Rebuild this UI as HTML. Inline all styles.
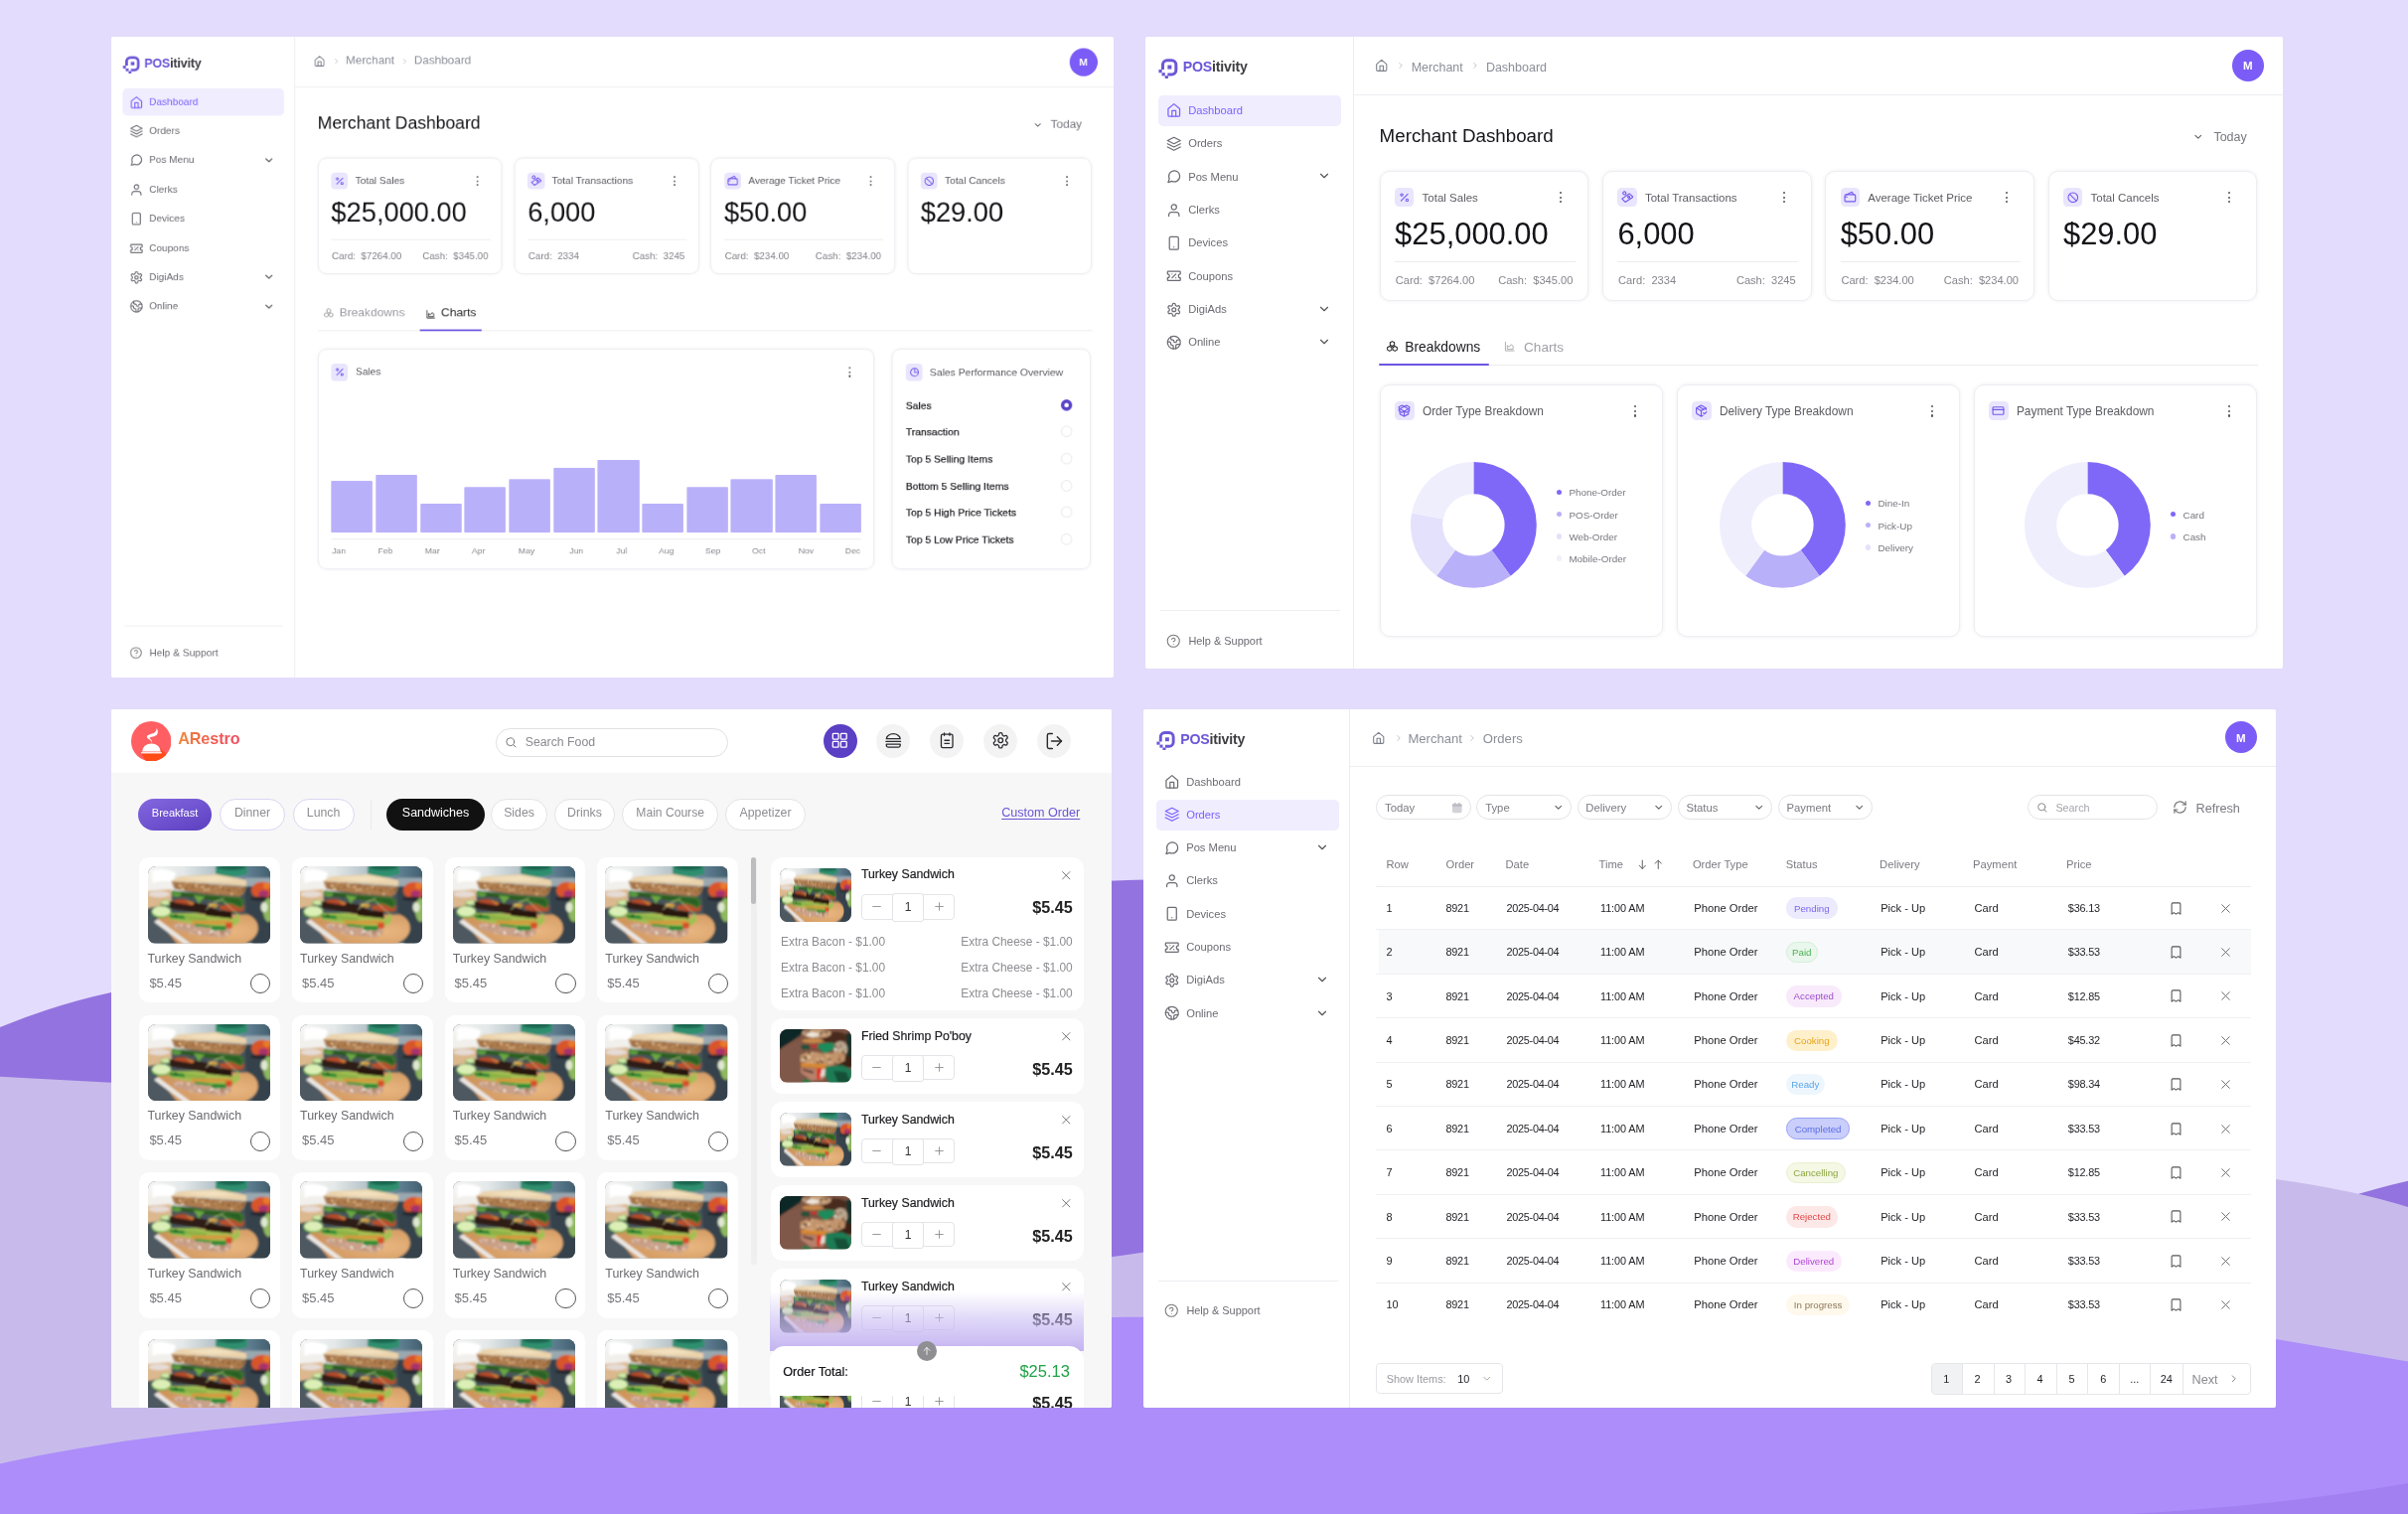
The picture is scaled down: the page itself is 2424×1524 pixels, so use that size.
<!DOCTYPE html><html><head><meta charset="utf-8"><title>POS dashboards</title><style>
html,body{margin:0;padding:0}
body{width:2424px;height:1524px;background:#E3DCFC;position:relative;overflow:hidden;font-family:"Liberation Sans",sans-serif;-webkit-font-smoothing:antialiased}
.t{position:absolute;white-space:nowrap;line-height:1}
.b{position:absolute}
.ic{position:absolute;display:block}
.panel{position:absolute;background:#fff;overflow:hidden;border-radius:2px}
.sc{position:absolute;left:0;top:0;transform-origin:0 0;will-change:transform}
</style></head><body><svg class="ic" style="left:0;top:0;width:2424px;height:1524px" viewBox="0 0 2424 1524">
<path d="M0,1034 Q 56,1011 112,999 C 250,969.500 700,900 1135,886 S 1600,900 1900,1100 S 2300,1215 2424,1188.700 V1524 H0 Z" fill="#9373DF"/>
<path d="M0,1083.800 L112,1089.700 C 300,1099.600 800,1311.200 1135,1263 C 1500,1210.400 2000,1150 2291,1187 Q 2370,1198 2424,1215 V1524 H0Z" fill="#C8BBEC"/>
<path d="M0,1473.500 C 100,1451 250,1431 480,1417 C 700,1404 950,1325.800 1135,1325.800 C 1500,1325.800 2000,1300 2291,1348 L2424,1370.500 V1524 H0Z" fill="#AC8DF9"/>
<path d="M2143,1524 Q 2300,1515 2424,1493 V1524 Z" fill="#A380F1"/>
</svg>
<svg width="0" height="0" style="position:absolute">
<defs>
<filter id="bl" x="-5%" y="-5%" width="110%" height="110%"><feGaussianBlur stdDeviation="21"/></filter>
<filter id="bl2" x="-5%" y="-5%" width="110%" height="110%"><feGaussianBlur stdDeviation="26"/></filter>
<linearGradient id="bgtop" x1="0" x2="1"><stop offset="0" stop-color="#f6f6f4"/><stop offset=".3" stop-color="#e4e8e8"/><stop offset=".55" stop-color="#b4c2c8"/><stop offset=".8" stop-color="#5f7f92"/><stop offset="1" stop-color="#3f5a6a"/></linearGradient>
<radialGradient id="brd" cx=".75" cy=".55" r=".7"><stop offset="0" stop-color="#e9b680"/><stop offset="1" stop-color="#cf955c"/></radialGradient>
<symbol id="sw" viewBox="75 75 2165 1365" preserveAspectRatio="none">
 <rect x="75" y="75" width="2165" height="1365" fill="#46535b"/>
 <g filter="url(#bl)">
 <rect x="0" y="0" width="2300" height="520" fill="url(#bgtop)"/>
 <path d="M0 300l500-60v360l-500 80z" fill="#f2f0ec"/>
 <path d="M150 150q200-60 420 40l-60 160q-200-40-360 20z" fill="#ffffff"/>
 <path d="M0 520l480-40 20 240-500 120z" fill="#dcb88e"/>
 <ellipse cx="270" cy="570" rx="190" ry="55" fill="#e6dcd6"/>
 <path d="M1800 280h460v160l-460 0z" fill="#9aa8b0"/>
 <path d="M1270 60h560v150q-280 120-560 0z" fill="#2f8f6e"/><ellipse cx="1550" cy="90" rx="250" ry="55" fill="#1b6650"/>
 <path d="M1780 430h480v1030h-330l-100-300z" fill="#35434b"/>
 <ellipse cx="2090" cy="500" rx="190" ry="150" fill="#d8552c"/><ellipse cx="2120" cy="560" rx="90" ry="60" fill="#a8326c"/><ellipse cx="2180" cy="420" rx="70" ry="60" fill="#e87a2a"/>
 <ellipse cx="2060" cy="650" rx="180" ry="40" fill="#26282e"/>
 <ellipse cx="2210" cy="850" rx="100" ry="210" fill="#8fb860"/><ellipse cx="2130" cy="800" rx="60" ry="90" fill="#dfe8cf"/>
 <path d="M0 960l300-40 600 560h-900z" fill="#4d5860"/>
 <path d="M240 1000q100-90 700-90l900 20q180 80 180 240 0 180-300 320h-1100z" fill="url(#brd)"/>
 <path d="M250 1010l600 450h-130l-540-400z" fill="#ebe7e3"/>
 <ellipse cx="400" cy="725" rx="110" ry="50" fill="#62ae40"/><ellipse cx="400" cy="718" rx="95" ry="40" fill="#d4e8aa"/>
 <ellipse cx="310" cy="885" rx="180" ry="105" fill="#58a838"/><ellipse cx="310" cy="872" rx="165" ry="90" fill="#dcefb6"/>
 <path d="M520 1085l380 30 300 70 360-10-20 90-140 75-500-50-360-105z" fill="#c9a088"/>
 <clipPath id="cc2"><path d="M520 1085l380 30 300 70 360-10-20 90-140 75-500-50-360-105z"/></clipPath><g clip-path="url(#cc2)"><circle cx="1230" cy="1220" r="17" fill="#f4e6da"/><circle cx="1439" cy="1099" r="13" fill="#f4e6da"/><circle cx="1323" cy="1214" r="18" fill="#f4e6da"/><circle cx="981" cy="1241" r="17" fill="#ffffff"/><circle cx="727" cy="1156" r="17" fill="#b88870"/><circle cx="1048" cy="1148" r="17" fill="#f0dccc"/><circle cx="1480" cy="1313" r="13" fill="#b88870"/><circle cx="663" cy="1116" r="16" fill="#f4e6da"/><circle cx="1218" cy="1194" r="13" fill="#f0dccc"/><circle cx="1335" cy="1314" r="12" fill="#f0dccc"/><circle cx="669" cy="1310" r="24" fill="#a87860"/><circle cx="1297" cy="1109" r="22" fill="#a87860"/><circle cx="1549" cy="1297" r="12" fill="#b88870"/><circle cx="1554" cy="1188" r="16" fill="#f0dccc"/><circle cx="851" cy="1269" r="10" fill="#ffffff"/><circle cx="997" cy="1264" r="15" fill="#ffffff"/><circle cx="1169" cy="1216" r="11" fill="#a87860"/><circle cx="1531" cy="1112" r="14" fill="#f4e6da"/><circle cx="1462" cy="1131" r="21" fill="#b88870"/><circle cx="1404" cy="1257" r="23" fill="#b88870"/><circle cx="675" cy="1319" r="18" fill="#f0dccc"/><circle cx="613" cy="1100" r="20" fill="#b88870"/><circle cx="1451" cy="1154" r="10" fill="#f4e6da"/><circle cx="1354" cy="1106" r="22" fill="#f4e6da"/><circle cx="795" cy="1116" r="10" fill="#ffffff"/><circle cx="954" cy="1318" r="19" fill="#f4e6da"/><circle cx="1068" cy="1146" r="12" fill="#a87860"/><circle cx="792" cy="1131" r="23" fill="#f0dccc"/><circle cx="1072" cy="1137" r="16" fill="#a87860"/><circle cx="801" cy="1290" r="24" fill="#f4e6da"/><circle cx="536" cy="1272" r="18" fill="#a87860"/><circle cx="1055" cy="1148" r="16" fill="#b88870"/><circle cx="1203" cy="1224" r="22" fill="#ffffff"/><circle cx="840" cy="1140" r="13" fill="#a87860"/><circle cx="1386" cy="1265" r="19" fill="#b88870"/><circle cx="1549" cy="1335" r="22" fill="#f4e6da"/><circle cx="594" cy="1274" r="14" fill="#a87860"/><circle cx="578" cy="1255" r="15" fill="#ffffff"/><circle cx="1217" cy="1157" r="13" fill="#f0dccc"/><circle cx="567" cy="1132" r="14" fill="#f4e6da"/><circle cx="794" cy="1330" r="24" fill="#ffffff"/><circle cx="856" cy="1094" r="22" fill="#a87860"/><circle cx="891" cy="1085" r="15" fill="#b88870"/><circle cx="810" cy="1252" r="13" fill="#f4e6da"/><circle cx="614" cy="1293" r="12" fill="#ffffff"/><circle cx="563" cy="1091" r="14" fill="#a87860"/><circle cx="608" cy="1329" r="22" fill="#a87860"/><circle cx="1204" cy="1268" r="22" fill="#b88870"/><circle cx="1315" cy="1269" r="17" fill="#f0dccc"/><circle cx="1273" cy="1249" r="11" fill="#ffffff"/><circle cx="1172" cy="1272" r="21" fill="#a87860"/><circle cx="1466" cy="1277" r="18" fill="#f4e6da"/><circle cx="1379" cy="1234" r="22" fill="#a87860"/><circle cx="608" cy="1096" r="19" fill="#f4e6da"/><circle cx="912" cy="1200" r="11" fill="#f4e6da"/><circle cx="1171" cy="1259" r="17" fill="#f4e6da"/><circle cx="995" cy="1103" r="23" fill="#ffffff"/><circle cx="616" cy="1219" r="20" fill="#b88870"/><circle cx="782" cy="1104" r="14" fill="#a87860"/><circle cx="760" cy="1251" r="16" fill="#b88870"/></g>
 <path d="M455 900h450l300 60 400 40 60-110 40 160-150 105h-350l-750-140z" fill="#a3c052"/>
 <path d="M700 930l420 60-40 80-380-60z" fill="#8db247"/>
 <path d="M830 1040l710-10-10 75h-670z" fill="#d49a3c"/>
 <path d="M1445 1080l125-10-15 110-110 0z" fill="#d8502a"/>
 <path d="M455 925l250 20 30 70-270-20z" fill="#2e8a34"/><ellipse cx="565" cy="950" rx="28" ry="20" fill="#143c18"/>
 <path d="M1190 1125l270 10-10 75h-250z" fill="#2e8a34"/><path d="M900 1090l280 30v45l-280-30z" fill="#38983c"/>
 <path d="M450 700l250-25 420 90 200 95 230 5v130l-350-45-300-65-440-65z" fill="#2e1c15"/>
 <path d="M1100 850l460 60v90l-460-50z" fill="#281610"/>
 <path d="M1330 775l190-35 260 35-25 105-190 0-220-45z" fill="#b9502e"/>
 <path d="M1150 725l170 15-30 75-150-30z" fill="#cf9a40"/>
 <path d="M530 672l170-20 200 78-40 40-330-58z" fill="#b34a2c"/>
 <path d="M720 662l150 45 20 30-50 25z" fill="#c97a38"/>
 <path d="M495 500l600 80 610 45 70 70-50 130-150-70-500-100-200-30-390-40z" fill="#397429"/><path d="M560 560l520 70 600 50" stroke="#1f3d1b" stroke-width="34" fill="none" opacity=".75"/>
 <path d="M880 590l200 25-110 120z" fill="#6aa843"/><path d="M1420 650l280 25 40 110-110-40z" fill="#2a5f26"/><path d="M520 530l150 20-40 70-110-10z" fill="#5c9c3c"/>
 <path d="M1100 840q120-140 320-190" stroke="#cfe0a0" stroke-width="14" fill="none"/><path d="M1400 690q120 100 240 220" stroke="#cfe0a0" stroke-width="12" fill="none"/>
 <path d="M485 335l715 58 612 45-50 125-62 50-600-52-560-80z" fill="#ad7c4e"/>
 <clipPath id="cc1"><path d="M485 335l715 58 612 45-50 125-62 50-600-52-560-80z"/></clipPath><g clip-path="url(#cc1)"><circle cx="915" cy="378" r="19" fill="#8c5c32"/><circle cx="1575" cy="362" r="18" fill="#9a6a3c"/><circle cx="770" cy="359" r="16" fill="#e2c298"/><circle cx="605" cy="456" r="22" fill="#8c5c32"/><circle cx="1742" cy="515" r="18" fill="#8c5c32"/><circle cx="1251" cy="448" r="24" fill="#8c5c32"/><circle cx="1224" cy="373" r="16" fill="#9a6a3c"/><circle cx="641" cy="423" r="21" fill="#e2c298"/><circle cx="622" cy="498" r="13" fill="#8c5c32"/><circle cx="1212" cy="353" r="11" fill="#e2c298"/><circle cx="1144" cy="487" r="21" fill="#d8b488"/><circle cx="1262" cy="464" r="14" fill="#e2c298"/><circle cx="1413" cy="405" r="18" fill="#9a6a3c"/><circle cx="1142" cy="433" r="16" fill="#9a6a3c"/><circle cx="1786" cy="369" r="16" fill="#7a4c28"/><circle cx="687" cy="474" r="11" fill="#8c5c32"/><circle cx="1500" cy="498" r="22" fill="#7a4c28"/><circle cx="936" cy="435" r="17" fill="#d8b488"/><circle cx="576" cy="362" r="14" fill="#8c5c32"/><circle cx="566" cy="535" r="19" fill="#d8b488"/><circle cx="863" cy="445" r="19" fill="#8c5c32"/><circle cx="1733" cy="436" r="19" fill="#d8b488"/><circle cx="563" cy="554" r="12" fill="#e2c298"/><circle cx="1013" cy="596" r="17" fill="#e2c298"/><circle cx="1081" cy="492" r="22" fill="#d8b488"/><circle cx="1632" cy="414" r="16" fill="#7a4c28"/><circle cx="1391" cy="443" r="13" fill="#8c5c32"/><circle cx="719" cy="401" r="13" fill="#d8b488"/><circle cx="1588" cy="387" r="14" fill="#e2c298"/><circle cx="1041" cy="440" r="18" fill="#e2c298"/><circle cx="1401" cy="482" r="19" fill="#8c5c32"/><circle cx="1091" cy="583" r="23" fill="#9a6a3c"/><circle cx="1006" cy="449" r="11" fill="#d8b488"/><circle cx="568" cy="354" r="13" fill="#e2c298"/><circle cx="631" cy="506" r="11" fill="#9a6a3c"/><circle cx="686" cy="364" r="15" fill="#8c5c32"/><circle cx="578" cy="394" r="15" fill="#7a4c28"/><circle cx="1753" cy="507" r="17" fill="#8c5c32"/><circle cx="1612" cy="618" r="17" fill="#d8b488"/><circle cx="899" cy="376" r="20" fill="#7a4c28"/><circle cx="1120" cy="532" r="17" fill="#e2c298"/><circle cx="1747" cy="486" r="12" fill="#9a6a3c"/><circle cx="1698" cy="551" r="14" fill="#8c5c32"/><circle cx="1409" cy="409" r="15" fill="#e2c298"/><circle cx="957" cy="398" r="18" fill="#9a6a3c"/><circle cx="922" cy="399" r="21" fill="#e2c298"/><circle cx="1555" cy="568" r="20" fill="#e2c298"/><circle cx="750" cy="475" r="20" fill="#8c5c32"/><circle cx="1533" cy="470" r="13" fill="#9a6a3c"/><circle cx="1754" cy="462" r="23" fill="#7a4c28"/><circle cx="1752" cy="439" r="13" fill="#e2c298"/><circle cx="1109" cy="431" r="17" fill="#9a6a3c"/><circle cx="1600" cy="472" r="19" fill="#8c5c32"/><circle cx="1593" cy="369" r="15" fill="#e2c298"/><circle cx="1119" cy="386" r="21" fill="#7a4c28"/><circle cx="600" cy="605" r="20" fill="#d8b488"/><circle cx="1018" cy="605" r="20" fill="#e2c298"/><circle cx="1803" cy="343" r="18" fill="#d8b488"/><circle cx="1555" cy="377" r="22" fill="#d8b488"/><circle cx="1357" cy="435" r="18" fill="#e2c298"/><circle cx="513" cy="563" r="20" fill="#8c5c32"/><circle cx="1184" cy="601" r="16" fill="#e2c298"/><circle cx="1581" cy="395" r="14" fill="#7a4c28"/><circle cx="1150" cy="553" r="15" fill="#9a6a3c"/><circle cx="1041" cy="372" r="23" fill="#7a4c28"/><circle cx="1676" cy="524" r="21" fill="#9a6a3c"/><circle cx="1043" cy="597" r="17" fill="#9a6a3c"/><circle cx="686" cy="481" r="22" fill="#e2c298"/><circle cx="1293" cy="556" r="12" fill="#e2c298"/><circle cx="1113" cy="542" r="18" fill="#7a4c28"/></g>
 <path d="M485 340l135-85 670-40 522 100v110l-612-50-715-35z" fill="#ead2aa"/>
 <path d="M680 280l580-35 420 80-520 20z" fill="#f2e0be"/>
 </g>
</symbol>
<symbol id="pb" viewBox="120 140 1700 1280" preserveAspectRatio="none">
 <rect x="120" y="140" width="1700" height="1280" fill="#7a5242"/>
 <g filter="url(#bl2)">
 <path d="M100 600l520-200 100 1100h-620z" fill="#80584a"/>
 <path d="M60 100h640l-80 170-560 400z" fill="#0c2626"/>
 <ellipse cx="1420" cy="340" rx="320" ry="140" fill="#4a2a1e"/>
 <ellipse cx="1000" cy="240" rx="340" ry="120" fill="#c6a07a"/><clipPath id="pc1"><ellipse cx="1000" cy="240" rx="340" ry="120"/></clipPath><g clip-path="url(#pc1)"><circle cx="968" cy="254" r="29" fill="#3a2418"/><circle cx="967" cy="325" r="17" fill="#3a2418"/><circle cx="1088" cy="310" r="16" fill="#8a5a3a"/><circle cx="756" cy="249" r="28" fill="#5a3a28"/><circle cx="1065" cy="215" r="21" fill="#ecd4b8"/><circle cx="1084" cy="320" r="15" fill="#5a3a28"/><circle cx="789" cy="178" r="14" fill="#3a2418"/><circle cx="882" cy="262" r="17" fill="#ecd4b8"/><circle cx="1095" cy="240" r="25" fill="#3a2418"/><circle cx="1105" cy="218" r="23" fill="#5a3a28"/><circle cx="1141" cy="196" r="18" fill="#8a5a3a"/><circle cx="680" cy="255" r="16" fill="#5a3a28"/><circle cx="1236" cy="213" r="29" fill="#5a3a28"/><circle cx="805" cy="342" r="15" fill="#3a2418"/><circle cx="1327" cy="215" r="15" fill="#ecd4b8"/><circle cx="1189" cy="185" r="15" fill="#8a5a3a"/><circle cx="670" cy="218" r="29" fill="#ecd4b8"/><circle cx="828" cy="144" r="15" fill="#3a2418"/><circle cx="781" cy="254" r="21" fill="#ecd4b8"/><circle cx="1330" cy="305" r="21" fill="#3a2418"/><circle cx="739" cy="221" r="17" fill="#8a5a3a"/><circle cx="1248" cy="354" r="23" fill="#5a3a28"/><circle cx="803" cy="215" r="28" fill="#5a3a28"/><circle cx="689" cy="155" r="21" fill="#5a3a28"/><circle cx="1185" cy="199" r="19" fill="#5a3a28"/><circle cx="711" cy="170" r="24" fill="#5a3a28"/></g>
 <ellipse cx="900" cy="270" rx="150" ry="60" fill="#f0e6da"/>
 <ellipse cx="900" cy="420" rx="260" ry="60" fill="#c88848"/>
 <rect x="1700" y="240" width="160" height="800" fill="#16302a"/>
 <path d="M1500 800h340v260h-340z" fill="#3a2018"/>
 <ellipse cx="1560" cy="620" rx="170" ry="190" fill="#b8a48c"/><clipPath id="pc3"><ellipse cx="1560" cy="620" rx="170" ry="190"/></clipPath><g clip-path="url(#pc3)"><circle cx="1573" cy="790" r="21" fill="#5a3a28"/><circle cx="1524" cy="731" r="27" fill="#5a3a28"/><circle cx="1530" cy="769" r="19" fill="#f0e4d4"/><circle cx="1544" cy="668" r="27" fill="#f0e4d4"/><circle cx="1577" cy="678" r="21" fill="#f0e4d4"/><circle cx="1548" cy="678" r="17" fill="#6a4a38"/><circle cx="1684" cy="733" r="27" fill="#5a3a28"/><circle cx="1463" cy="772" r="28" fill="#f0e4d4"/><circle cx="1573" cy="730" r="18" fill="#6a4a38"/><circle cx="1681" cy="562" r="15" fill="#f0e4d4"/><circle cx="1506" cy="590" r="18" fill="#5a3a28"/><circle cx="1464" cy="760" r="20" fill="#5a3a28"/><circle cx="1449" cy="557" r="25" fill="#5a3a28"/><circle cx="1550" cy="810" r="27" fill="#6a4a38"/><circle cx="1676" cy="692" r="27" fill="#f0e4d4"/><circle cx="1587" cy="692" r="25" fill="#f0e4d4"/><circle cx="1569" cy="540" r="24" fill="#6a4a38"/><circle cx="1446" cy="625" r="27" fill="#f0e4d4"/></g>
 <path d="M1040 490l360-25 25 140-270 150-40-100-90-60z" fill="#1e8c5a"/>
 <ellipse cx="735" cy="570" rx="120" ry="55" fill="#24503a"/>
 <ellipse cx="925" cy="545" rx="85" ry="35" fill="#d03030"/>
 <path d="M610 780q200-160 500-60 300 20 560-80l0 260q-300 160-620 120-300-20-440-100z" fill="#c2946c"/><clipPath id="pc2"><path d="M610 780q200-160 500-60 300 20 560-80l0 260q-300 160-620 120-300-20-440-100z"/></clipPath><g clip-path="url(#pc2)"><circle cx="1253" cy="796" r="22" fill="#e0b890"/><circle cx="1128" cy="881" r="30" fill="#ecd4b8"/><circle cx="1281" cy="771" r="18" fill="#e0b890"/><circle cx="877" cy="720" r="27" fill="#e0b890"/><circle cx="820" cy="1039" r="30" fill="#e0b890"/><circle cx="694" cy="660" r="16" fill="#e0b890"/><circle cx="1640" cy="740" r="27" fill="#8a5a3a"/><circle cx="1060" cy="1020" r="23" fill="#e0b890"/><circle cx="798" cy="943" r="15" fill="#ecd4b8"/><circle cx="1123" cy="914" r="25" fill="#5a3a28"/><circle cx="910" cy="1025" r="18" fill="#5a3a28"/><circle cx="684" cy="813" r="18" fill="#5a3a28"/><circle cx="799" cy="795" r="24" fill="#ecd4b8"/><circle cx="709" cy="698" r="22" fill="#8a5a3a"/><circle cx="1313" cy="930" r="25" fill="#ecd4b8"/><circle cx="1241" cy="1028" r="23" fill="#8a5a3a"/><circle cx="1360" cy="1044" r="14" fill="#5a3a28"/><circle cx="1126" cy="947" r="20" fill="#5a3a28"/><circle cx="691" cy="869" r="27" fill="#ecd4b8"/><circle cx="1459" cy="1024" r="20" fill="#3a2418"/><circle cx="1574" cy="1006" r="22" fill="#5a3a28"/><circle cx="1534" cy="881" r="25" fill="#3a2418"/><circle cx="1016" cy="645" r="15" fill="#5a3a28"/><circle cx="1294" cy="1057" r="30" fill="#8a5a3a"/><circle cx="1026" cy="949" r="24" fill="#3a2418"/><circle cx="1105" cy="867" r="23" fill="#e0b890"/><circle cx="642" cy="893" r="23" fill="#ecd4b8"/><circle cx="1634" cy="687" r="28" fill="#3a2418"/><circle cx="884" cy="645" r="19" fill="#e0b890"/><circle cx="827" cy="711" r="30" fill="#3a2418"/><circle cx="1143" cy="741" r="21" fill="#8a5a3a"/><circle cx="822" cy="821" r="29" fill="#ecd4b8"/><circle cx="1552" cy="801" r="24" fill="#8a5a3a"/><circle cx="835" cy="697" r="20" fill="#5a3a28"/><circle cx="1371" cy="1039" r="19" fill="#ecd4b8"/><circle cx="731" cy="838" r="31" fill="#3a2418"/><circle cx="1019" cy="858" r="26" fill="#e0b890"/><circle cx="1094" cy="671" r="15" fill="#e0b890"/><circle cx="654" cy="938" r="24" fill="#8a5a3a"/><circle cx="1305" cy="877" r="26" fill="#3a2418"/><circle cx="1097" cy="650" r="29" fill="#ecd4b8"/><circle cx="1444" cy="975" r="32" fill="#5a3a28"/><circle cx="1088" cy="905" r="26" fill="#8a5a3a"/><circle cx="1636" cy="927" r="18" fill="#3a2418"/><circle cx="884" cy="940" r="28" fill="#e0b890"/><circle cx="1374" cy="715" r="19" fill="#8a5a3a"/></g>
 <path d="M620 950l640 40-30 100-600-40z" fill="#d88830"/>
 <path d="M620 1060l600 40-60 260-300 20-240-200z" fill="#b8806a"/>
 <path d="M670 1090l250 60-10 60-240-70z" fill="#5a3a30"/>
 <path d="M1100 1090l160 20-40 160-140 20z" fill="#ecdcd4"/>
 <path d="M1010 1075l115 5-60 275-65-10z" fill="#e02a18"/>
 <path d="M1210 1030l400-20 230 120v330h-520l-130-200z" fill="#1e7c54"/>
 <path d="M1400 1150l300 20 100 260h-300z" fill="#145038"/>
 <ellipse cx="750" cy="1390" rx="110" ry="45" fill="#2a7a4a"/>
 </g>
</symbol>
</defs></svg>
<div class="panel" style="left:111.6px;top:36.7px;width:1009.6px;height:645px"><div class="sc" style="transform:scale(0.8818);width:1144.93px;height:731.46px"><div class="b" style="left:0px;top:0px;width:209.8px;height:730.6px;border-right:1px solid #ececf1;box-sizing:border-box"></div><svg class="ic" style="left:12.5px;top:20.8px;width:21.42px;height:21.42px" viewBox="0 0 24 24"><path d="M10.500 19H15a5 5 0 0 0 5-5V8a5 5 0 0 0-5-5H10A5 5 0 0 0 5 8v5.500" fill="none" stroke="#6B57D8" stroke-width="3.400" stroke-linecap="butt"/><rect x="10.500" y="8.500" width="4.500" height="4.500" fill="#6B57D8"/><rect x="0.500" y="13.500" width="3.600" height="3.600" fill="#6B57D8"/><rect x="4" y="17" width="3.600" height="3.600" fill="#6B57D8"/><rect x="7.500" y="20.400" width="3.600" height="3.600" fill="#6B57D8"/></svg><div class="t" style="left:37.72px;top:23.13px;font-size:14.2px;color:#333;font-weight:700;letter-spacing:-0.2px;"><span style="color:#6B57D8">POS</span><span style="color:#3d3d42">itivity</span></div><div class="b" style="left:12.8px;top:58.7px;width:184.2px;height:31.2px;background:#EFEDFE;border-radius:5px"></div><svg class="ic" style="width:15.5px;height:15.5px;left:20.55px;top:66.55px;" viewBox="0 0 24 24" fill="none" stroke="#7B61FF" stroke-width="1.9" stroke-linecap="round" stroke-linejoin="round"><path d="M3 10l9-7.5 9 7.5v10a2 2 0 0 1-2 2H5a2 2 0 0 1-2-2z"/><path d="M9 22v-9h6v9"/></svg><div class="t" style="left:43.2px;top:68.58px;font-size:11.45px;color:#7B61FF;font-weight:400;">Dashboard</div><svg class="ic" style="width:15.5px;height:15.5px;left:20.55px;top:99.95px;" viewBox="0 0 24 24" fill="none" stroke="#6b6b73" stroke-width="1.9" stroke-linecap="round" stroke-linejoin="round"><path d="M12 2 2 7l10 5 10-5-10-5z"/><path d="m2 17 10 5 10-5"/><path d="m2 12 10 5 10-5"/></svg><div class="t" style="left:43.2px;top:101.97px;font-size:11.45px;color:#6b6b73;font-weight:400;">Orders</div><svg class="ic" style="width:15.5px;height:15.5px;left:20.55px;top:133.35px;" viewBox="0 0 24 24" fill="none" stroke="#6b6b73" stroke-width="1.9" stroke-linecap="round" stroke-linejoin="round"><path d="M21 11.5a8.38 8.38 0 0 1-.9 3.8 8.5 8.5 0 0 1-7.6 4.7 8.38 8.38 0 0 1-3.8-.9L3 21l1.9-5.7a8.38 8.38 0 0 1-.9-3.8 8.5 8.5 0 0 1 4.7-7.6 8.38 8.38 0 0 1 3.8-.9h.5a8.48 8.48 0 0 1 8 8v.5z"/></svg><div class="t" style="left:43.2px;top:135.38px;font-size:11.45px;color:#6b6b73;font-weight:400;">Pos Menu</div><svg class="ic" style="width:14px;height:14px;left:172.7px;top:133.6px;" viewBox="0 0 24 24" fill="none" stroke="#555" stroke-width="2" stroke-linecap="round" stroke-linejoin="round"><path d="m6 9 6 6 6-6"/></svg><svg class="ic" style="width:15.5px;height:15.5px;left:20.55px;top:166.75px;" viewBox="0 0 24 24" fill="none" stroke="#6b6b73" stroke-width="1.9" stroke-linecap="round" stroke-linejoin="round"><path d="M20 21v-2a4 4 0 0 0-4-4H8a4 4 0 0 0-4 4v2"/><circle cx="12" cy="7" r="4"/></svg><div class="t" style="left:43.2px;top:168.78px;font-size:11.45px;color:#6b6b73;font-weight:400;">Clerks</div><svg class="ic" style="width:15.5px;height:15.5px;left:20.55px;top:200.15px;" viewBox="0 0 24 24" fill="none" stroke="#6b6b73" stroke-width="1.9" stroke-linecap="round" stroke-linejoin="round"><rect x="5" y="2" width="14" height="20" rx="2"/><path d="M12 18h.01"/></svg><div class="t" style="left:43.2px;top:202.17px;font-size:11.45px;color:#6b6b73;font-weight:400;">Devices</div><svg class="ic" style="width:15.5px;height:15.5px;left:20.55px;top:233.55px;" viewBox="0 0 24 24" fill="none" stroke="#6b6b73" stroke-width="1.9" stroke-linecap="round" stroke-linejoin="round"><path d="M2 9a3 3 0 0 1 0 6v3a1 1 0 0 0 1 1h18a1 1 0 0 0 1-1v-3a3 3 0 0 1 0-6V6a1 1 0 0 0-1-1H3a1 1 0 0 0-1 1Z"/><path d="M9 9h.01"/><path d="m15 9-6 6"/><path d="M15 15h.01"/></svg><div class="t" style="left:43.2px;top:235.58px;font-size:11.45px;color:#6b6b73;font-weight:400;">Coupons</div><svg class="ic" style="width:15.5px;height:15.5px;left:20.55px;top:266.95px;" viewBox="0 0 24 24" fill="none" stroke="#6b6b73" stroke-width="1.9" stroke-linecap="round" stroke-linejoin="round"><path d="M12.22 2h-.44a2 2 0 0 0-2 2v.18a2 2 0 0 1-1 1.73l-.43.25a2 2 0 0 1-2 0l-.15-.08a2 2 0 0 0-2.73.73l-.22.38a2 2 0 0 0 .73 2.73l.15.1a2 2 0 0 1 1 1.72v.51a2 2 0 0 1-1 1.74l-.15.09a2 2 0 0 0-.73 2.73l.22.38a2 2 0 0 0 2.73.73l.15-.08a2 2 0 0 1 2 0l.43.25a2 2 0 0 1 1 1.73V20a2 2 0 0 0 2 2h.44a2 2 0 0 0 2-2v-.18a2 2 0 0 1 1-1.73l.43-.25a2 2 0 0 1 2 0l.15.08a2 2 0 0 0 2.73-.73l.22-.39a2 2 0 0 0-.73-2.73l-.15-.08a2 2 0 0 1-1-1.74v-.5a2 2 0 0 1 1-1.74l.15-.09a2 2 0 0 0 .73-2.73l-.22-.38a2 2 0 0 0-2.73-.73l-.15.08a2 2 0 0 1-2 0l-.43-.25a2 2 0 0 1-1-1.73V4a2 2 0 0 0-2-2z"/><circle cx="12" cy="12" r="3"/></svg><div class="t" style="left:43.2px;top:268.97px;font-size:11.45px;color:#6b6b73;font-weight:400;">DigiAds</div><svg class="ic" style="width:14px;height:14px;left:172.7px;top:267.2px;" viewBox="0 0 24 24" fill="none" stroke="#555" stroke-width="2" stroke-linecap="round" stroke-linejoin="round"><path d="m6 9 6 6 6-6"/></svg><svg class="ic" style="width:15.5px;height:15.5px;left:20.55px;top:300.35px;" viewBox="0 0 24 24" fill="none" stroke="#6b6b73" stroke-width="1.9" stroke-linecap="round" stroke-linejoin="round"><circle cx="12" cy="12" r="10"/><path d="M21.54 15H17a2 2 0 0 0-2 2v4.54"/><path d="M7 3.34V5a3 3 0 0 0 3 3a2 2 0 0 1 2 2c0 1.1.9 2 2 2a2 2 0 0 0 2-2c0-1.1.9-2 2-2h3.17"/><path d="M11 21.95V18a2 2 0 0 0-2-2a2 2 0 0 1-2-2v-1a2 2 0 0 0-2-2H2.05"/></svg><div class="t" style="left:43.2px;top:302.37px;font-size:11.45px;color:#6b6b73;font-weight:400;">Online</div><svg class="ic" style="width:14px;height:14px;left:172.7px;top:300.6px;" viewBox="0 0 24 24" fill="none" stroke="#555" stroke-width="2" stroke-linecap="round" stroke-linejoin="round"><path d="m6 9 6 6 6-6"/></svg><div class="b" style="left:14.5px;top:671.7px;width:181px;height:1px;background:#eeeef2"></div><svg class="ic" style="width:14.5px;height:14.5px;left:21.45px;top:695.85px;" viewBox="0 0 24 24" fill="none" stroke="#777" stroke-width="1.7" stroke-linecap="round" stroke-linejoin="round"><circle cx="12" cy="12" r="10"/><path d="M9.09 9a3 3 0 0 1 5.83 1c0 2-3 3-3 3"/><path d="M12 17h.01"/></svg><div class="t" style="left:43.4px;top:697.3px;font-size:11.6px;color:#6b6b73;font-weight:400;">Help &amp; Support</div><div class="b" style="left:209.8px;top:56.8px;width:935.2px;height:1px;background:#eeeef2"></div><svg class="ic" style="width:13.5px;height:13.5px;left:231.15px;top:21.45px;" viewBox="0 0 24 24" fill="none" stroke="#7a7f88" stroke-width="1.9" stroke-linecap="round" stroke-linejoin="round"><path d="M3 10l9-7.5 9 7.5v10a2 2 0 0 1-2 2H5a2 2 0 0 1-2-2z"/><path d="M9 22v-9h6v9"/></svg><svg class="ic" style="width:10px;height:10px;left:252.0px;top:23.4px;" viewBox="0 0 24 24" fill="none" stroke="#b5b8be" stroke-width="2" stroke-linecap="round" stroke-linejoin="round"><path d="m9 6 6 6-6 6"/></svg><div class="t" style="left:267.7px;top:20.45px;font-size:13.3px;color:#8a8f98;font-weight:400;">Merchant</div><svg class="ic" style="width:10px;height:10px;left:330.1px;top:23.4px;" viewBox="0 0 24 24" fill="none" stroke="#b5b8be" stroke-width="2" stroke-linecap="round" stroke-linejoin="round"><path d="m9 6 6 6-6 6"/></svg><div class="t" style="left:345.7px;top:20.45px;font-size:13.3px;color:#8a8f98;font-weight:400;">Dashboard</div><div class="b" style="left:1094.3px;top:13px;width:32px;height:32px;background:#7B5CF6;border-radius:50%"></div><div class="t" style="left:1105.0px;top:23.85px;font-size:11.5px;color:#fff;font-weight:700;">M</div><div class="t" style="left:235.6px;top:88.65px;font-size:19.9px;color:#15151a;font-weight:400;">Merchant Dashboard</div><svg class="ic" style="width:11.5px;height:11.5px;left:1052.25px;top:95.05px;" viewBox="0 0 24 24" fill="none" stroke="#666" stroke-width="2.4" stroke-linecap="round" stroke-linejoin="round"><path d="m6 9 6 6 6-6"/></svg><div class="t" style="left:1072.3px;top:92.7px;font-size:13.4px;color:#77777f;font-weight:400;">Today</div><div class="b" style="left:235.8px;top:138.1px;width:210.5px;height:133.3px;border:1px solid #ededf2;border-radius:10px;box-sizing:border-box;background:#fff;box-shadow:0 0 4px rgba(30,30,70,.07)"></div><div class="b" style="left:251.0px;top:154.8px;width:19.3px;height:19.3px;background:#E9E5FD;border-radius:4.5px"></div><svg class="ic" style="width:11.5px;height:11.5px;left:254.9px;top:158.7px;" viewBox="0 0 24 24" fill="none" stroke="#7458F0" stroke-width="2.2" stroke-linecap="round" stroke-linejoin="round"><path d="M19 5 5 19"/><circle cx="6.5" cy="6.5" r="2.5"/><circle cx="17.5" cy="17.5" r="2.5"/></svg><div class="t" style="left:278.6px;top:159.05px;font-size:11.5px;color:#5b5b63;font-weight:400;">Total Sales</div><div class="b" style="left:417.3px;top:158.9px;width:2.2px;height:2.2px;background:#555;border-radius:50%"></div><div class="b" style="left:417.3px;top:163.5px;width:2.2px;height:2.2px;background:#555;border-radius:50%"></div><div class="b" style="left:417.3px;top:168.1px;width:2.2px;height:2.2px;background:#555;border-radius:50%"></div><div class="t" style="left:251.1px;top:186.25px;font-size:30.9px;color:#141418;font-weight:400;">$25,000.00</div><div class="b" style="left:251.0px;top:231.3px;width:181.5px;height:1px;background:#ececf0"></div><div class="t" style="left:251.8px;top:244.65px;font-size:11.1px;color:#85858d;font-weight:400;">Card:&nbsp; $7264.00</div><div class="t" style="right:714.5px;top:244.65px;font-size:11.1px;color:#85858d;font-weight:400;">Cash:&nbsp; $345.00</div><div class="b" style="left:460.1px;top:138.1px;width:210.5px;height:133.3px;border:1px solid #ededf2;border-radius:10px;box-sizing:border-box;background:#fff;box-shadow:0 0 4px rgba(30,30,70,.07)"></div><div class="b" style="left:475.3px;top:154.8px;width:19.3px;height:19.3px;background:#E9E5FD;border-radius:4.5px"></div><svg class="ic" style="width:12.5px;height:12.5px;left:478.7px;top:158.2px;" viewBox="0 0 24 24" fill="none" stroke="#7458F0" stroke-width="2.2" stroke-linecap="round" stroke-linejoin="round"><circle cx="6.300" cy="4.700" r="3"/><path d="M1.600 15.600 14 6.700a2.400 2.400 0 0 1 3.400.200L23 12.100 7.800 21.900z"/><circle cx="14.600" cy="12.200" r="2"/></svg><div class="t" style="left:502.9px;top:159.05px;font-size:11.5px;color:#5b5b63;font-weight:400;">Total Transactions</div><div class="b" style="left:641.6px;top:158.9px;width:2.2px;height:2.2px;background:#555;border-radius:50%"></div><div class="b" style="left:641.6px;top:163.5px;width:2.2px;height:2.2px;background:#555;border-radius:50%"></div><div class="b" style="left:641.6px;top:168.1px;width:2.2px;height:2.2px;background:#555;border-radius:50%"></div><div class="t" style="left:475.4px;top:186.25px;font-size:30.9px;color:#141418;font-weight:400;">6,000</div><div class="b" style="left:475.3px;top:231.3px;width:181.5px;height:1px;background:#ececf0"></div><div class="t" style="left:476.1px;top:244.65px;font-size:11.1px;color:#85858d;font-weight:400;">Card:&nbsp; 2334</div><div class="t" style="right:490.2px;top:244.65px;font-size:11.1px;color:#85858d;font-weight:400;">Cash:&nbsp; 3245</div><div class="b" style="left:684.4px;top:138.1px;width:210.5px;height:133.3px;border:1px solid #ededf2;border-radius:10px;box-sizing:border-box;background:#fff;box-shadow:0 0 4px rgba(30,30,70,.07)"></div><div class="b" style="left:699.6px;top:154.8px;width:19.3px;height:19.3px;background:#E9E5FD;border-radius:4.5px"></div><svg class="ic" style="width:12.5px;height:12.5px;left:703px;top:158.2px;" viewBox="0 0 24 24" fill="none" stroke="#7458F0" stroke-width="2.2" stroke-linecap="round" stroke-linejoin="round"><rect x="2" y="7.500" width="20.500" height="13.500" rx="2.500"/><path d="M5 7.500 16 2.500l2.800 5"/><path d="M2.500 12h4"/></svg><div class="t" style="left:727.2px;top:159.05px;font-size:11.5px;color:#5b5b63;font-weight:400;">Average Ticket Price</div><div class="b" style="left:865.9px;top:158.9px;width:2.2px;height:2.2px;background:#555;border-radius:50%"></div><div class="b" style="left:865.9px;top:163.5px;width:2.2px;height:2.2px;background:#555;border-radius:50%"></div><div class="b" style="left:865.9px;top:168.1px;width:2.2px;height:2.2px;background:#555;border-radius:50%"></div><div class="t" style="left:699.7px;top:186.25px;font-size:30.9px;color:#141418;font-weight:400;">$50.00</div><div class="b" style="left:699.6px;top:231.3px;width:181.5px;height:1px;background:#ececf0"></div><div class="t" style="left:700.4px;top:244.65px;font-size:11.1px;color:#85858d;font-weight:400;">Card:&nbsp; $234.00</div><div class="t" style="right:265.9px;top:244.65px;font-size:11.1px;color:#85858d;font-weight:400;">Cash:&nbsp; $234.00</div><div class="b" style="left:908.7px;top:138.1px;width:210.5px;height:133.3px;border:1px solid #ededf2;border-radius:10px;box-sizing:border-box;background:#fff;box-shadow:0 0 4px rgba(30,30,70,.07)"></div><div class="b" style="left:923.9px;top:154.8px;width:19.3px;height:19.3px;background:#E9E5FD;border-radius:4.5px"></div><svg class="ic" style="width:11.5px;height:11.5px;left:927.8px;top:158.7px;" viewBox="0 0 24 24" fill="none" stroke="#7458F0" stroke-width="2.2" stroke-linecap="round" stroke-linejoin="round"><circle cx="12" cy="12" r="10"/><path d="m4.9 4.9 14.2 14.2"/></svg><div class="t" style="left:951.5px;top:159.05px;font-size:11.5px;color:#5b5b63;font-weight:400;">Total Cancels</div><div class="b" style="left:1090.2px;top:158.9px;width:2.2px;height:2.2px;background:#555;border-radius:50%"></div><div class="b" style="left:1090.2px;top:163.5px;width:2.2px;height:2.2px;background:#555;border-radius:50%"></div><div class="b" style="left:1090.2px;top:168.1px;width:2.2px;height:2.2px;background:#555;border-radius:50%"></div><div class="t" style="left:924.0px;top:186.25px;font-size:30.9px;color:#141418;font-weight:400;">$29.00</div><div class="b" style="left:235.8px;top:334.8px;width:884px;height:1px;background:#ececf0"></div><svg class="ic" style="width:12.5px;height:12.5px;left:241.95px;top:309.35px;" viewBox="0 0 24 24" fill="none" stroke="#999" stroke-width="1.9" stroke-linecap="round" stroke-linejoin="round"><path d="M12 3l4 2.2v4.4L12 12 8 9.600V5.200z"/><path d="M7 12l4 2.200v4.400L7 21 3 18.600v-4.400z"/><path d="M17 12l4 2.200v4.400L17 21l-4-2.400v-4.400z"/></svg><div class="t" style="left:260.4px;top:308.3px;font-size:13.6px;color:#9a9aa2;font-weight:400;">Breakdowns</div><svg class="ic" style="width:11.5px;height:11.5px;left:359.25px;top:310.65px;" viewBox="0 0 24 24" fill="none" stroke="#222" stroke-width="1.9" stroke-linecap="round" stroke-linejoin="round"><path d="M3 3v18h18"/><path d="M7 17V10l4 3 4-5 4 3v6z"/></svg><div class="t" style="left:376.6px;top:308.3px;font-size:13.6px;color:#1b1b20;font-weight:400;">Charts</div><div class="b" style="left:352.3px;top:334.2px;width:71px;height:2px;background:#6C55E0;border-radius:1px"></div><div class="b" style="left:236.22px;top:355.52px;width:635.18px;height:252.78px;border:1px solid #ededf2;border-radius:10px;box-sizing:border-box;background:#fff;box-shadow:0 0 4px rgba(30,30,70,.07)"></div><div class="b" style="left:251.19px;top:373.33px;width:19.3px;height:19.3px;background:#E9E5FD;border-radius:4.5px"></div><svg class="ic" style="width:11.5px;height:11.5px;left:254.97px;top:376.99px;" viewBox="0 0 24 24" fill="none" stroke="#7458F0" stroke-width="2.3" stroke-linecap="round" stroke-linejoin="round"><path d="M19 5 5 19"/><circle cx="6.5" cy="6.5" r="2.5"/><circle cx="17.5" cy="17.5" r="2.5"/></svg><div class="t" style="left:278.97px;top:377.33px;font-size:11.5px;color:#5b5b63;font-weight:400;">Sales</div><div class="b" style="left:842.29px;top:377.15px;width:2.2px;height:2.2px;background:#555;border-radius:50%"></div><div class="b" style="left:842.29px;top:381.75px;width:2.2px;height:2.2px;background:#555;border-radius:50%"></div><div class="b" style="left:842.29px;top:386.35px;width:2.2px;height:2.2px;background:#555;border-radius:50%"></div><div class="b" style="left:251.19px;top:507.03px;width:47.18px;height:58.97px;background:#B9B0FA;border-radius:1px"></div><div class="b" style="left:301.88px;top:499.55px;width:47.18px;height:66.45px;background:#B9B0FA;border-radius:1px"></div><div class="b" style="left:352.57px;top:533.11px;width:47.18px;height:32.89px;background:#B9B0FA;border-radius:1px"></div><div class="b" style="left:403.27px;top:513.72px;width:47.18px;height:52.28px;background:#B9B0FA;border-radius:1px"></div><div class="b" style="left:453.96px;top:505.1px;width:47.18px;height:60.9px;background:#B9B0FA;border-radius:1px"></div><div class="b" style="left:504.65px;top:492.4px;width:47.18px;height:73.6px;background:#B9B0FA;border-radius:1px"></div><div class="b" style="left:555.34px;top:482.88px;width:47.18px;height:83.13px;background:#B9B0FA;border-radius:1px"></div><div class="b" style="left:606.03px;top:533.11px;width:47.18px;height:32.89px;background:#B9B0FA;border-radius:1px"></div><div class="b" style="left:656.72px;top:513.72px;width:47.18px;height:52.28px;background:#B9B0FA;border-radius:1px"></div><div class="b" style="left:707.42px;top:505.1px;width:47.18px;height:60.9px;background:#B9B0FA;border-radius:1px"></div><div class="b" style="left:758.11px;top:499.55px;width:47.18px;height:66.45px;background:#B9B0FA;border-radius:1px"></div><div class="b" style="left:808.8px;top:533.11px;width:47.18px;height:32.89px;background:#B9B0FA;border-radius:1px"></div><div class="b" style="left:251.19px;top:572.69px;width:605.24px;height:1px;background:#ececf0"></div><div class="t" style="left:251.98px;top:581.85px;font-size:9.8px;color:#8a8a92;font-weight:400;">Jan</div><div class="t" style="left:304.6px;top:581.85px;font-size:9.8px;color:#8a8a92;font-weight:400;">Feb</div><div class="t" style="left:358.02px;top:581.85px;font-size:9.8px;color:#8a8a92;font-weight:400;">Mar</div><div class="t" style="left:411.43px;top:581.85px;font-size:9.8px;color:#8a8a92;font-weight:400;">Apr</div><div class="t" style="left:464.84px;top:581.85px;font-size:9.8px;color:#8a8a92;font-weight:400;">May</div><div class="t" style="left:523.02px;top:581.85px;font-size:9.8px;color:#8a8a92;font-weight:400;">Jun</div><div class="t" style="left:576.32px;top:581.85px;font-size:9.8px;color:#8a8a92;font-weight:400;">Jul</div><div class="t" style="left:624.97px;top:581.85px;font-size:9.8px;color:#8a8a92;font-weight:400;">Aug</div><div class="t" style="left:678.04px;top:581.85px;font-size:9.8px;color:#8a8a92;font-weight:400;">Sep</div><div class="t" style="left:731.46px;top:581.85px;font-size:9.8px;color:#8a8a92;font-weight:400;">Oct</div><div class="t" style="left:784.42px;top:581.85px;font-size:9.8px;color:#8a8a92;font-weight:400;">Nov</div><div class="t" style="left:837.83px;top:581.85px;font-size:9.8px;color:#8a8a92;font-weight:400;">Dec</div><div class="b" style="left:891.25px;top:355.52px;width:227.04px;height:252.78px;border:1px solid #ededf2;border-radius:10px;box-sizing:border-box;background:#fff;box-shadow:0 0 4px rgba(30,30,70,.07)"></div><div class="b" style="left:907.01px;top:373.33px;width:19.3px;height:19.3px;background:#E9E5FD;border-radius:4.5px"></div><svg class="ic" style="width:12px;height:12px;left:910.53px;top:376.74px;" viewBox="0 0 24 24" fill="none" stroke="#7458F0" stroke-width="2.2" stroke-linecap="round" stroke-linejoin="round"><path d="M21 12A9 9 0 1 1 12 3"/><path d="M12 3v9h9A9 9 0 0 0 12 3z"/></svg><div class="t" style="left:934.34px;top:377.21px;font-size:11.75px;color:#5b5b63;font-weight:400;">Sales Performance Overview</div><div class="t" style="left:907.01px;top:414.92px;font-size:11.75px;color:#1f1f24;font-weight:400;-webkit-text-stroke:0.25px #1f1f24;">Sales</div><div class="b" style="left:1083.66px;top:413.89px;width:13px;height:13px;background:#5A45C8;border-radius:50%"></div><div class="b" style="left:1087.56px;top:417.79px;width:5.2px;height:5.2px;background:#fff;border-radius:50%"></div><div class="t" style="left:907.01px;top:445.47px;font-size:11.75px;color:#1f1f24;font-weight:400;-webkit-text-stroke:0.25px #1f1f24;">Transaction</div><div class="b" style="left:1083.66px;top:444.44px;width:13px;height:13px;border:1px solid #e6e6ea;border-radius:50%;box-sizing:border-box"></div><div class="t" style="left:907.01px;top:476.02px;font-size:11.75px;color:#1f1f24;font-weight:400;-webkit-text-stroke:0.25px #1f1f24;">Top 5 Selling Items</div><div class="b" style="left:1083.66px;top:474.99px;width:13px;height:13px;border:1px solid #e6e6ea;border-radius:50%;box-sizing:border-box"></div><div class="t" style="left:907.01px;top:506.57px;font-size:11.75px;color:#1f1f24;font-weight:400;-webkit-text-stroke:0.25px #1f1f24;">Bottom 5 Selling Items</div><div class="b" style="left:1083.66px;top:505.54px;width:13px;height:13px;border:1px solid #e6e6ea;border-radius:50%;box-sizing:border-box"></div><div class="t" style="left:907.01px;top:537.12px;font-size:11.75px;color:#1f1f24;font-weight:400;-webkit-text-stroke:0.25px #1f1f24;">Top 5 High Price Tickets</div><div class="b" style="left:1083.66px;top:536.09px;width:13px;height:13px;border:1px solid #e6e6ea;border-radius:50%;box-sizing:border-box"></div><div class="t" style="left:907.01px;top:567.67px;font-size:11.75px;color:#1f1f24;font-weight:400;-webkit-text-stroke:0.25px #1f1f24;">Top 5 Low Price Tickets</div><div class="b" style="left:1083.66px;top:566.65px;width:13px;height:13px;border:1px solid #e6e6ea;border-radius:50%;box-sizing:border-box"></div></div></div><div class="panel" style="left:1152.9px;top:36.7px;width:1144.9px;height:636.2px"><div class="sc" style="transform:scale(1);width:1144.9px;height:636.2px"><div class="b" style="left:0px;top:0px;width:209.8px;height:637.1px;border-right:1px solid #ececf1;box-sizing:border-box"></div><svg class="ic" style="left:12.5px;top:20.8px;width:21.42px;height:21.42px" viewBox="0 0 24 24"><path d="M10.500 19H15a5 5 0 0 0 5-5V8a5 5 0 0 0-5-5H10A5 5 0 0 0 5 8v5.500" fill="none" stroke="#6B57D8" stroke-width="3.400" stroke-linecap="butt"/><rect x="10.500" y="8.500" width="4.500" height="4.500" fill="#6B57D8"/><rect x="0.500" y="13.500" width="3.600" height="3.600" fill="#6B57D8"/><rect x="4" y="17" width="3.600" height="3.600" fill="#6B57D8"/><rect x="7.500" y="20.400" width="3.600" height="3.600" fill="#6B57D8"/></svg><div class="t" style="left:37.72px;top:23.4px;font-size:14.2px;color:#333;font-weight:700;letter-spacing:-0.2px;"><span style="color:#6B57D8">POS</span><span style="color:#3d3d42">itivity</span></div><div class="b" style="left:12.8px;top:58.6px;width:184.2px;height:31.2px;background:#EFEDFE;border-radius:5px"></div><svg class="ic" style="width:15.5px;height:15.5px;left:20.55px;top:66.45px;" viewBox="0 0 24 24" fill="none" stroke="#7B61FF" stroke-width="1.9" stroke-linecap="round" stroke-linejoin="round"><path d="M3 10l9-7.5 9 7.5v10a2 2 0 0 1-2 2H5a2 2 0 0 1-2-2z"/><path d="M9 22v-9h6v9"/></svg><div class="t" style="left:43.2px;top:68.9px;font-size:11.2px;color:#7B61FF;font-weight:400;">Dashboard</div><svg class="ic" style="width:15.5px;height:15.5px;left:20.55px;top:99.8px;" viewBox="0 0 24 24" fill="none" stroke="#6b6b73" stroke-width="1.9" stroke-linecap="round" stroke-linejoin="round"><path d="M12 2 2 7l10 5 10-5-10-5z"/><path d="m2 17 10 5 10-5"/><path d="m2 12 10 5 10-5"/></svg><div class="t" style="left:43.2px;top:101.9px;font-size:11.2px;color:#6b6b73;font-weight:400;">Orders</div><svg class="ic" style="width:15.5px;height:15.5px;left:20.55px;top:133.15px;" viewBox="0 0 24 24" fill="none" stroke="#6b6b73" stroke-width="1.9" stroke-linecap="round" stroke-linejoin="round"><path d="M21 11.5a8.38 8.38 0 0 1-.9 3.8 8.5 8.5 0 0 1-7.6 4.7 8.38 8.38 0 0 1-3.8-.9L3 21l1.9-5.7a8.38 8.38 0 0 1-.9-3.8 8.5 8.5 0 0 1 4.7-7.6 8.38 8.38 0 0 1 3.8-.9h.5a8.48 8.48 0 0 1 8 8v.5z"/></svg><div class="t" style="left:43.2px;top:135.9px;font-size:11.2px;color:#6b6b73;font-weight:400;">Pos Menu</div><svg class="ic" style="width:14px;height:14px;left:172.7px;top:133.4px;" viewBox="0 0 24 24" fill="none" stroke="#555" stroke-width="2" stroke-linecap="round" stroke-linejoin="round"><path d="m6 9 6 6 6-6"/></svg><svg class="ic" style="width:15.5px;height:15.5px;left:20.55px;top:166.5px;" viewBox="0 0 24 24" fill="none" stroke="#6b6b73" stroke-width="1.9" stroke-linecap="round" stroke-linejoin="round"><path d="M20 21v-2a4 4 0 0 0-4-4H8a4 4 0 0 0-4 4v2"/><circle cx="12" cy="7" r="4"/></svg><div class="t" style="left:43.2px;top:168.9px;font-size:11.2px;color:#6b6b73;font-weight:400;">Clerks</div><svg class="ic" style="width:15.5px;height:15.5px;left:20.55px;top:199.85px;" viewBox="0 0 24 24" fill="none" stroke="#6b6b73" stroke-width="1.9" stroke-linecap="round" stroke-linejoin="round"><rect x="5" y="2" width="14" height="20" rx="2"/><path d="M12 18h.01"/></svg><div class="t" style="left:43.2px;top:201.9px;font-size:11.2px;color:#6b6b73;font-weight:400;">Devices</div><svg class="ic" style="width:15.5px;height:15.5px;left:20.55px;top:233.2px;" viewBox="0 0 24 24" fill="none" stroke="#6b6b73" stroke-width="1.9" stroke-linecap="round" stroke-linejoin="round"><path d="M2 9a3 3 0 0 1 0 6v3a1 1 0 0 0 1 1h18a1 1 0 0 0 1-1v-3a3 3 0 0 1 0-6V6a1 1 0 0 0-1-1H3a1 1 0 0 0-1 1Z"/><path d="M9 9h.01"/><path d="m15 9-6 6"/><path d="M15 15h.01"/></svg><div class="t" style="left:43.2px;top:235.9px;font-size:11.2px;color:#6b6b73;font-weight:400;">Coupons</div><svg class="ic" style="width:15.5px;height:15.5px;left:20.55px;top:266.55px;" viewBox="0 0 24 24" fill="none" stroke="#6b6b73" stroke-width="1.9" stroke-linecap="round" stroke-linejoin="round"><path d="M12.22 2h-.44a2 2 0 0 0-2 2v.18a2 2 0 0 1-1 1.73l-.43.25a2 2 0 0 1-2 0l-.15-.08a2 2 0 0 0-2.73.73l-.22.38a2 2 0 0 0 .73 2.73l.15.1a2 2 0 0 1 1 1.72v.51a2 2 0 0 1-1 1.74l-.15.09a2 2 0 0 0-.73 2.73l.22.38a2 2 0 0 0 2.73.73l.15-.08a2 2 0 0 1 2 0l.43.25a2 2 0 0 1 1 1.73V20a2 2 0 0 0 2 2h.44a2 2 0 0 0 2-2v-.18a2 2 0 0 1 1-1.73l.43-.25a2 2 0 0 1 2 0l.15.08a2 2 0 0 0 2.73-.73l.22-.39a2 2 0 0 0-.73-2.73l-.15-.08a2 2 0 0 1-1-1.74v-.5a2 2 0 0 1 1-1.74l.15-.09a2 2 0 0 0 .73-2.73l-.22-.38a2 2 0 0 0-2.73-.73l-.15.08a2 2 0 0 1-2 0l-.43-.25a2 2 0 0 1-1-1.73V4a2 2 0 0 0-2-2z"/><circle cx="12" cy="12" r="3"/></svg><div class="t" style="left:43.2px;top:268.9px;font-size:11.2px;color:#6b6b73;font-weight:400;">DigiAds</div><svg class="ic" style="width:14px;height:14px;left:172.7px;top:266.8px;" viewBox="0 0 24 24" fill="none" stroke="#555" stroke-width="2" stroke-linecap="round" stroke-linejoin="round"><path d="m6 9 6 6 6-6"/></svg><svg class="ic" style="width:15.5px;height:15.5px;left:20.55px;top:299.9px;" viewBox="0 0 24 24" fill="none" stroke="#6b6b73" stroke-width="1.9" stroke-linecap="round" stroke-linejoin="round"><circle cx="12" cy="12" r="10"/><path d="M21.54 15H17a2 2 0 0 0-2 2v4.54"/><path d="M7 3.34V5a3 3 0 0 0 3 3a2 2 0 0 1 2 2c0 1.1.9 2 2 2a2 2 0 0 0 2-2c0-1.1.9-2 2-2h3.17"/><path d="M11 21.95V18a2 2 0 0 0-2-2a2 2 0 0 1-2-2v-1a2 2 0 0 0-2-2H2.05"/></svg><div class="t" style="left:43.2px;top:301.9px;font-size:11.2px;color:#6b6b73;font-weight:400;">Online</div><svg class="ic" style="width:14px;height:14px;left:172.7px;top:300.15px;" viewBox="0 0 24 24" fill="none" stroke="#555" stroke-width="2" stroke-linecap="round" stroke-linejoin="round"><path d="m6 9 6 6 6-6"/></svg><div class="b" style="left:14.5px;top:577.3px;width:181px;height:1px;background:#eeeef2"></div><svg class="ic" style="width:14.5px;height:14.5px;left:21.45px;top:600.75px;" viewBox="0 0 24 24" fill="none" stroke="#777" stroke-width="1.7" stroke-linecap="round" stroke-linejoin="round"><circle cx="12" cy="12" r="10"/><path d="M9.09 9a3 3 0 0 1 5.83 1c0 2-3 3-3 3"/><path d="M12 17h.01"/></svg><div class="t" style="left:43.4px;top:603.02px;font-size:10.95px;color:#6b6b73;font-weight:400;">Help &amp; Support</div><div class="b" style="left:209.8px;top:57.5px;width:935.2px;height:1px;background:#eeeef2"></div><svg class="ic" style="width:13.5px;height:13.5px;left:231.15px;top:22.35px;" viewBox="0 0 24 24" fill="none" stroke="#7a7f88" stroke-width="1.9" stroke-linecap="round" stroke-linejoin="round"><path d="M3 10l9-7.5 9 7.5v10a2 2 0 0 1-2 2H5a2 2 0 0 1-2-2z"/><path d="M9 22v-9h6v9"/></svg><svg class="ic" style="width:10px;height:10px;left:251.5px;top:24.3px;" viewBox="0 0 24 24" fill="none" stroke="#b5b8be" stroke-width="2" stroke-linecap="round" stroke-linejoin="round"><path d="m9 6 6 6-6 6"/></svg><div class="t" style="left:267.7px;top:25.25px;font-size:12.5px;color:#8a8f98;font-weight:400;">Merchant</div><svg class="ic" style="width:10px;height:10px;left:327.3px;top:24.3px;" viewBox="0 0 24 24" fill="none" stroke="#b5b8be" stroke-width="2" stroke-linecap="round" stroke-linejoin="round"><path d="m9 6 6 6-6 6"/></svg><div class="t" style="left:342.9px;top:25.25px;font-size:12.5px;color:#8a8f98;font-weight:400;">Dashboard</div><div class="b" style="left:1094.3px;top:13px;width:32px;height:32px;background:#7B5CF6;border-radius:50%"></div><div class="t" style="left:1105.0px;top:23.75px;font-size:11.5px;color:#fff;font-weight:700;">M</div><div class="t" style="left:235.6px;top:90.62px;font-size:18.75px;color:#15151a;font-weight:400;">Merchant Dashboard</div><svg class="ic" style="width:11.5px;height:11.5px;left:1053.75px;top:94.55px;" viewBox="0 0 24 24" fill="none" stroke="#666" stroke-width="2.4" stroke-linecap="round" stroke-linejoin="round"><path d="m6 9 6 6 6-6"/></svg><div class="t" style="left:1075.4px;top:95.25px;font-size:12.5px;color:#77777f;font-weight:400;">Today</div><div class="b" style="left:235.8px;top:135.2px;width:210.5px;height:131.3px;border:1px solid #ededf2;border-radius:10px;box-sizing:border-box;background:#fff;box-shadow:0 0 4px rgba(30,30,70,.07)"></div><div class="b" style="left:251.0px;top:151.9px;width:19.3px;height:19.3px;background:#E9E5FD;border-radius:4.5px"></div><svg class="ic" style="width:11.5px;height:11.5px;left:254.9px;top:155.8px;" viewBox="0 0 24 24" fill="none" stroke="#7458F0" stroke-width="2.2" stroke-linecap="round" stroke-linejoin="round"><path d="M19 5 5 19"/><circle cx="6.5" cy="6.5" r="2.5"/><circle cx="17.5" cy="17.5" r="2.5"/></svg><div class="t" style="left:278.6px;top:156.75px;font-size:11.5px;color:#5b5b63;font-weight:400;">Total Sales</div><div class="b" style="left:417.3px;top:156.0px;width:2.2px;height:2.2px;background:#555;border-radius:50%"></div><div class="b" style="left:417.3px;top:160.6px;width:2.2px;height:2.2px;background:#555;border-radius:50%"></div><div class="b" style="left:417.3px;top:165.2px;width:2.2px;height:2.2px;background:#555;border-radius:50%"></div><div class="t" style="left:251.1px;top:183.55px;font-size:30.9px;color:#141418;font-weight:400;">$25,000.00</div><div class="b" style="left:251.0px;top:226.4px;width:181.5px;height:1px;background:#ececf0"></div><div class="t" style="left:251.8px;top:239.95px;font-size:11.1px;color:#85858d;font-weight:400;">Card:&nbsp; $7264.00</div><div class="t" style="right:714.5px;top:239.95px;font-size:11.1px;color:#85858d;font-weight:400;">Cash:&nbsp; $345.00</div><div class="b" style="left:460.1px;top:135.2px;width:210.5px;height:131.3px;border:1px solid #ededf2;border-radius:10px;box-sizing:border-box;background:#fff;box-shadow:0 0 4px rgba(30,30,70,.07)"></div><div class="b" style="left:475.3px;top:151.9px;width:19.3px;height:19.3px;background:#E9E5FD;border-radius:4.5px"></div><svg class="ic" style="width:12.5px;height:12.5px;left:478.7px;top:155.3px;" viewBox="0 0 24 24" fill="none" stroke="#7458F0" stroke-width="2.2" stroke-linecap="round" stroke-linejoin="round"><circle cx="6.300" cy="4.700" r="3"/><path d="M1.600 15.600 14 6.700a2.400 2.400 0 0 1 3.400.200L23 12.100 7.800 21.900z"/><circle cx="14.600" cy="12.200" r="2"/></svg><div class="t" style="left:502.9px;top:156.75px;font-size:11.5px;color:#5b5b63;font-weight:400;">Total Transactions</div><div class="b" style="left:641.6px;top:156.0px;width:2.2px;height:2.2px;background:#555;border-radius:50%"></div><div class="b" style="left:641.6px;top:160.6px;width:2.2px;height:2.2px;background:#555;border-radius:50%"></div><div class="b" style="left:641.6px;top:165.2px;width:2.2px;height:2.2px;background:#555;border-radius:50%"></div><div class="t" style="left:475.4px;top:183.55px;font-size:30.9px;color:#141418;font-weight:400;">6,000</div><div class="b" style="left:475.3px;top:226.4px;width:181.5px;height:1px;background:#ececf0"></div><div class="t" style="left:476.1px;top:239.95px;font-size:11.1px;color:#85858d;font-weight:400;">Card:&nbsp; 2334</div><div class="t" style="right:490.2px;top:239.95px;font-size:11.1px;color:#85858d;font-weight:400;">Cash:&nbsp; 3245</div><div class="b" style="left:684.4px;top:135.2px;width:210.5px;height:131.3px;border:1px solid #ededf2;border-radius:10px;box-sizing:border-box;background:#fff;box-shadow:0 0 4px rgba(30,30,70,.07)"></div><div class="b" style="left:699.6px;top:151.9px;width:19.3px;height:19.3px;background:#E9E5FD;border-radius:4.5px"></div><svg class="ic" style="width:12.5px;height:12.5px;left:703px;top:155.3px;" viewBox="0 0 24 24" fill="none" stroke="#7458F0" stroke-width="2.2" stroke-linecap="round" stroke-linejoin="round"><rect x="2" y="7.500" width="20.500" height="13.500" rx="2.500"/><path d="M5 7.500 16 2.500l2.800 5"/><path d="M2.500 12h4"/></svg><div class="t" style="left:727.2px;top:156.75px;font-size:11.5px;color:#5b5b63;font-weight:400;">Average Ticket Price</div><div class="b" style="left:865.9px;top:156.0px;width:2.2px;height:2.2px;background:#555;border-radius:50%"></div><div class="b" style="left:865.9px;top:160.6px;width:2.2px;height:2.2px;background:#555;border-radius:50%"></div><div class="b" style="left:865.9px;top:165.2px;width:2.2px;height:2.2px;background:#555;border-radius:50%"></div><div class="t" style="left:699.7px;top:183.55px;font-size:30.9px;color:#141418;font-weight:400;">$50.00</div><div class="b" style="left:699.6px;top:226.4px;width:181.5px;height:1px;background:#ececf0"></div><div class="t" style="left:700.4px;top:239.95px;font-size:11.1px;color:#85858d;font-weight:400;">Card:&nbsp; $234.00</div><div class="t" style="right:265.9px;top:239.95px;font-size:11.1px;color:#85858d;font-weight:400;">Cash:&nbsp; $234.00</div><div class="b" style="left:908.7px;top:135.2px;width:210.5px;height:131.3px;border:1px solid #ededf2;border-radius:10px;box-sizing:border-box;background:#fff;box-shadow:0 0 4px rgba(30,30,70,.07)"></div><div class="b" style="left:923.9px;top:151.9px;width:19.3px;height:19.3px;background:#E9E5FD;border-radius:4.5px"></div><svg class="ic" style="width:11.5px;height:11.5px;left:927.8px;top:155.8px;" viewBox="0 0 24 24" fill="none" stroke="#7458F0" stroke-width="2.2" stroke-linecap="round" stroke-linejoin="round"><circle cx="12" cy="12" r="10"/><path d="m4.9 4.9 14.2 14.2"/></svg><div class="t" style="left:951.5px;top:156.75px;font-size:11.5px;color:#5b5b63;font-weight:400;">Total Cancels</div><div class="b" style="left:1090.2px;top:156.0px;width:2.2px;height:2.2px;background:#555;border-radius:50%"></div><div class="b" style="left:1090.2px;top:160.6px;width:2.2px;height:2.2px;background:#555;border-radius:50%"></div><div class="b" style="left:1090.2px;top:165.2px;width:2.2px;height:2.2px;background:#555;border-radius:50%"></div><div class="t" style="left:924.0px;top:183.55px;font-size:30.9px;color:#141418;font-weight:400;">$29.00</div><div class="b" style="left:235.8px;top:330px;width:884px;height:1px;background:#ececf0"></div><svg class="ic" style="width:13px;height:13px;left:241.5px;top:304.9px;" viewBox="0 0 24 24" fill="none" stroke="#222" stroke-width="1.9" stroke-linecap="round" stroke-linejoin="round"><path d="M12 3l4 2.2v4.4L12 12 8 9.600V5.200z"/><path d="M7 12l4 2.200v4.400L7 21 3 18.600v-4.400z"/><path d="M17 12l4 2.200v4.400L17 21l-4-2.400v-4.400z"/></svg><div class="t" style="left:261.3px;top:306.1px;font-size:13.8px;color:#1b1b20;font-weight:400;">Breakdowns</div><svg class="ic" style="width:11.5px;height:11.5px;left:361.35px;top:305.95px;" viewBox="0 0 24 24" fill="none" stroke="#aaa" stroke-width="1.9" stroke-linecap="round" stroke-linejoin="round"><path d="M3 3v18h18"/><path d="M7 17V10l4 3 4-5 4 3v6z"/></svg><div class="t" style="left:381px;top:306.2px;font-size:13.6px;color:#a0a0a8;font-weight:400;">Charts</div><div class="b" style="left:235px;top:329px;width:110.8px;height:2px;background:#6C55E0;border-radius:1px"></div><div class="b" style="left:235.8px;top:350.4px;width:285.5px;height:253.2px;border:1px solid #ededf2;border-radius:10px;box-sizing:border-box;background:#fff;box-shadow:0 0 4px rgba(30,30,70,.07)"></div><div class="b" style="left:251.0px;top:367.2px;width:19.6px;height:19.3px;background:#E9E5FD;border-radius:4.5px"></div><svg class="ic" style="width:13px;height:13px;left:254.3px;top:370.3px;" viewBox="0 0 24 24" fill="none" stroke="#7458F0" stroke-width="2.1" stroke-linecap="round" stroke-linejoin="round"><path d="M12 22v-9"/><path d="M15.170 2.210a1.670 1.670 0 0 1 1.630 0L21 4.570a1.930 1.930 0 0 1 0 3.360L8.820 14.790a1.655 1.655 0 0 1-1.640 0L3 12.430a1.930 1.930 0 0 1 0-3.360z"/><path d="M20 13v3.870a2.060 2.060 0 0 1-1.110 1.830l-6 3.080a1.930 1.930 0 0 1-1.780 0l-6-3.080A2.060 2.060 0 0 1 4 16.870V13"/><path d="M21 12.430a1.930 1.930 0 0 0 0-3.360L8.830 2.200a1.640 1.640 0 0 0-1.630 0L3 4.570a1.930 1.930 0 0 0 0 3.360l12.180 6.860a1.636 1.636 0 0 0 1.630 0z"/></svg><div class="t" style="left:278.9px;top:371.55px;font-size:11.9px;color:#5b5b63;font-weight:400;">Order Type Breakdown</div><div class="b" style="left:491.9px;top:371.2px;width:2.2px;height:2.2px;background:#555;border-radius:50%"></div><div class="b" style="left:491.9px;top:375.8px;width:2.2px;height:2.2px;background:#555;border-radius:50%"></div><div class="b" style="left:491.9px;top:380.4px;width:2.2px;height:2.2px;background:#555;border-radius:50%"></div><svg class="ic" style="left:266.9px;top:427.8px;width:126.8px;height:126.8px" viewBox="-63.4 -63.4 126.8 126.8"><path d="M0.000 -63.400 A63.4 63.4 0 0 1 37.266 51.292 L18.339 25.241 A31.2 31.2 0 0 0 0.000 -31.200 Z" fill="#7F68F8"/><path d="M37.266 51.292 A63.4 63.4 0 0 1 -37.266 51.292 L-18.339 25.241 A31.2 31.2 0 0 0 18.339 25.241 Z" fill="#B9B0FA"/><path d="M-37.266 51.292 A63.4 63.4 0 0 1 -62.277 -11.880 L-30.647 -5.846 A31.2 31.2 0 0 0 -18.339 25.241 Z" fill="#E4E1FC"/><path d="M-62.277 -11.880 A63.4 63.4 0 0 1 -0.000 -63.400 L-0.000 -31.200 A31.2 31.2 0 0 0 -30.647 -5.846 Z" fill="#EFEEFD"/></svg><div class="b" style="left:413.6px;top:455.5px;width:5.6px;height:5.6px;background:#7F68F8;border-radius:50%"></div><div class="t" style="left:426.4px;top:454.05px;font-size:9.9px;color:#77777f;font-weight:400;">Phone-Order</div><div class="b" style="left:413.6px;top:477.8px;width:5.6px;height:5.6px;background:#B9B0FA;border-radius:50%"></div><div class="t" style="left:426.4px;top:477.05px;font-size:9.9px;color:#77777f;font-weight:400;">POS-Order</div><div class="b" style="left:413.6px;top:500.1px;width:5.6px;height:5.6px;background:#E4E1FC;border-radius:50%"></div><div class="t" style="left:426.4px;top:499.05px;font-size:9.9px;color:#77777f;font-weight:400;">Web-Order</div><div class="b" style="left:413.6px;top:522.4px;width:5.6px;height:5.6px;background:#F1F0F7;border-radius:50%"></div><div class="t" style="left:426.4px;top:521.05px;font-size:9.9px;color:#77777f;font-weight:400;">Mobile-Order</div><div class="b" style="left:534.8px;top:350.4px;width:285.5px;height:253.2px;border:1px solid #ededf2;border-radius:10px;box-sizing:border-box;background:#fff;box-shadow:0 0 4px rgba(30,30,70,.07)"></div><div class="b" style="left:550.0px;top:367.2px;width:19.6px;height:19.3px;background:#E9E5FD;border-radius:4.5px"></div><svg class="ic" style="width:13px;height:13px;left:553.3px;top:370.3px;" viewBox="0 0 24 24" fill="none" stroke="#7458F0" stroke-width="2.1" stroke-linecap="round" stroke-linejoin="round"><path d="m16 16 2 2 4-4"/><path d="M21 10V8a2 2 0 0 0-1-1.730l-7-4a2 2 0 0 0-2 0l-7 4A2 2 0 0 0 3 8v8a2 2 0 0 0 1 1.730l7 4a2 2 0 0 0 2 0l2-1.140"/><path d="m7.500 4.270 9 5.150"/><path d="M3.290 7 12 12l8.710-5"/><path d="M12 22V12"/></svg><div class="t" style="left:577.9px;top:371.55px;font-size:11.9px;color:#5b5b63;font-weight:400;">Delivery Type Breakdown</div><div class="b" style="left:790.9px;top:371.2px;width:2.2px;height:2.2px;background:#555;border-radius:50%"></div><div class="b" style="left:790.9px;top:375.8px;width:2.2px;height:2.2px;background:#555;border-radius:50%"></div><div class="b" style="left:790.9px;top:380.4px;width:2.2px;height:2.2px;background:#555;border-radius:50%"></div><svg class="ic" style="left:577.9px;top:427.8px;width:126.8px;height:126.8px" viewBox="-63.4 -63.4 126.8 126.8"><path d="M0.000 -63.400 A63.4 63.4 0 0 1 37.266 51.292 L18.339 25.241 A31.2 31.2 0 0 0 0.000 -31.200 Z" fill="#7F68F8"/><path d="M37.266 51.292 A63.4 63.4 0 0 1 -37.266 51.292 L-18.339 25.241 A31.2 31.2 0 0 0 18.339 25.241 Z" fill="#B9B0FA"/><path d="M-37.266 51.292 A63.4 63.4 0 0 1 -0.000 -63.400 L-0.000 -31.200 A31.2 31.2 0 0 0 -18.339 25.241 Z" fill="#EFEEFD"/></svg><div class="b" style="left:724.6px;top:466.6px;width:5.6px;height:5.6px;background:#7F68F8;border-radius:50%"></div><div class="t" style="left:737.4px;top:465.05px;font-size:9.9px;color:#77777f;font-weight:400;">Dine-In</div><div class="b" style="left:724.6px;top:488.9px;width:5.6px;height:5.6px;background:#B9B0FA;border-radius:50%"></div><div class="t" style="left:737.4px;top:488.05px;font-size:9.9px;color:#77777f;font-weight:400;">Pick-Up</div><div class="b" style="left:724.6px;top:511.2px;width:5.6px;height:5.6px;background:#E4E1FC;border-radius:50%"></div><div class="t" style="left:737.4px;top:510.05px;font-size:9.9px;color:#77777f;font-weight:400;">Delivery</div><div class="b" style="left:833.8px;top:350.4px;width:285.5px;height:253.2px;border:1px solid #ededf2;border-radius:10px;box-sizing:border-box;background:#fff;box-shadow:0 0 4px rgba(30,30,70,.07)"></div><div class="b" style="left:849.0px;top:367.2px;width:19.6px;height:19.3px;background:#E9E5FD;border-radius:4.5px"></div><svg class="ic" style="width:13px;height:13px;left:852.3px;top:370.3px;" viewBox="0 0 24 24" fill="none" stroke="#7458F0" stroke-width="2.1" stroke-linecap="round" stroke-linejoin="round"><rect x="2" y="5" width="20" height="14" rx="2"/><path d="M2 10h20"/></svg><div class="t" style="left:876.9px;top:371.55px;font-size:11.9px;color:#5b5b63;font-weight:400;">Payment Type Breakdown</div><div class="b" style="left:1089.9px;top:371.2px;width:2.2px;height:2.2px;background:#555;border-radius:50%"></div><div class="b" style="left:1089.9px;top:375.8px;width:2.2px;height:2.2px;background:#555;border-radius:50%"></div><div class="b" style="left:1089.9px;top:380.4px;width:2.2px;height:2.2px;background:#555;border-radius:50%"></div><svg class="ic" style="left:885.4px;top:427.8px;width:126.8px;height:126.8px" viewBox="-63.4 -63.4 126.8 126.8"><path d="M0.000 -63.400 A63.4 63.4 0 0 1 37.266 51.292 L18.339 25.241 A31.2 31.2 0 0 0 0.000 -31.200 Z" fill="#7F68F8"/><path d="M37.266 51.292 A63.4 63.4 0 1 1 -0.000 -63.400 L-0.000 -31.200 A31.2 31.2 0 1 0 18.339 25.241 Z" fill="#EFEEFD"/></svg><div class="b" style="left:1031.7px;top:477.8px;width:5.6px;height:5.6px;background:#7F68F8;border-radius:50%"></div><div class="t" style="left:1044.5px;top:477.05px;font-size:9.9px;color:#77777f;font-weight:400;">Card</div><div class="b" style="left:1031.7px;top:500.1px;width:5.6px;height:5.6px;background:#B9B0FA;border-radius:50%"></div><div class="t" style="left:1044.5px;top:499.05px;font-size:9.9px;color:#77777f;font-weight:400;">Cash</div></div></div><div class="panel" style="left:112.3px;top:713.7px;width:1006.8px;height:703px"><div class="sc" style="transform:scale(1);width:1006.8px;height:703.0px"><div class="b" style="left:0px;top:0px;width:1006.8px;height:703px;background:#F7F7F7"></div><div class="b" style="left:0px;top:0px;width:1006.8px;height:64.4px;background:#fff"></div><svg class="ic" style="left:20px;top:11.6px;width:40.4px;height:40.4px" viewBox="0 0 40 40"><defs><clipPath id="lc"><circle cx="20" cy="20" r="20"/></clipPath></defs><circle cx="20" cy="20" r="20" fill="#FF5F62"/><g clip-path="url(#lc)"><path d="M10.200 32h20.200l-1.700-5.200 14 13.500v10h-22z" fill="#FF4B16"/></g><path d="M11 30.200a9.200 8 0 0 1 18.400 0z" fill="#fff"/><rect x="10" y="30.800" width="20.400" height="1.300" fill="#fff" opacity=".95"/><path d="M20.500 22.500c1-2.500-1.500-3.500-4-5.500-1.500-1.200-1-2.600 1.500-3.600 3.500-1.400 7-1 7.500-6.400 1.800 3.500 1.600 7-2.500 8-3.500.9-5.500.9-4 2.500 2 2 2.500 3 1.500 5z" fill="#fff"/></svg><div class="t" style="left:67.2px;top:21.4px;font-size:16.2px;color:transparent;font-weight:700;letter-spacing:-0.1px;background:linear-gradient(90deg,#F08A3C,#F0564F 60%,#EE4D63);-webkit-background-clip:text;background-clip:text;">ARestro</div><div class="b" style="left:386.5px;top:18.6px;width:234.4px;height:29.7px;border:1px solid #e0e0e4;border-radius:15px;box-sizing:border-box;background:#fff"></div><svg class="ic" style="width:12.5px;height:12.5px;left:396.25px;top:27.05px;" viewBox="0 0 24 24" fill="none" stroke="#777" stroke-width="1.9" stroke-linecap="round" stroke-linejoin="round"><circle cx="11" cy="11" r="7.500"/><path d="m21 21-4.700-4.700"/></svg><div class="t" style="left:416.7px;top:27.35px;font-size:12.3px;color:#8a8a90;font-weight:400;">Search Food</div><div class="b" style="left:716.6px;top:14.7px;width:34px;height:34px;background:#5B3FC4;border-radius:50%"></div><svg class="ic" style="width:18.5px;height:18.5px;left:724.35px;top:22.45px;" viewBox="0 0 24 24" fill="none" stroke="#fff" stroke-width="1.7" stroke-linecap="round" stroke-linejoin="round"><rect x="3" y="3" width="7.500" height="7.500" rx="1"/><rect x="13.500" y="3" width="7.500" height="7.500" rx="1"/><rect x="3" y="13.500" width="7.500" height="7.500" rx="1"/><rect x="13.500" y="13.500" width="7.500" height="7.500" rx="1"/></svg><div class="b" style="left:770.45px;top:14.7px;width:34px;height:34px;background:#F3F3F4;border-radius:50%"></div><svg class="ic" style="width:18.5px;height:18.5px;left:778.2px;top:22.45px;" viewBox="0 0 24 24" fill="none" stroke="#2a2a2e" stroke-width="1.7" stroke-linecap="round" stroke-linejoin="round"><path d="M3 10a9 6.500 0 0 1 18 0z"/><path d="M2.500 13.500h19"/><path d="M3 17h18v1.500a2.500 2.500 0 0 1-2.500 2.500h-13A2.500 2.500 0 0 1 3 18.500z"/></svg><div class="b" style="left:824.3px;top:14.7px;width:34px;height:34px;background:#F3F3F4;border-radius:50%"></div><svg class="ic" style="width:18.5px;height:18.5px;left:832.05px;top:22.45px;" viewBox="0 0 24 24" fill="none" stroke="#2a2a2e" stroke-width="1.7" stroke-linecap="round" stroke-linejoin="round"><rect x="4.500" y="4" width="15" height="17.500" rx="2"/><path d="M8.500 2.500v3"/><path d="M15.500 2.500v3"/><path d="M9 12h6"/><path d="M9 16h6"/></svg><div class="b" style="left:878.15px;top:14.7px;width:34px;height:34px;background:#F3F3F4;border-radius:50%"></div><svg class="ic" style="width:18.5px;height:18.5px;left:885.9px;top:22.45px;" viewBox="0 0 24 24" fill="none" stroke="#2a2a2e" stroke-width="1.7" stroke-linecap="round" stroke-linejoin="round"><path d="M12.22 2h-.44a2 2 0 0 0-2 2v.18a2 2 0 0 1-1 1.73l-.43.25a2 2 0 0 1-2 0l-.15-.08a2 2 0 0 0-2.73.73l-.22.38a2 2 0 0 0 .73 2.73l.15.1a2 2 0 0 1 1 1.72v.51a2 2 0 0 1-1 1.74l-.15.09a2 2 0 0 0-.73 2.73l.22.38a2 2 0 0 0 2.73.73l.15-.08a2 2 0 0 1 2 0l.43.25a2 2 0 0 1 1 1.73V20a2 2 0 0 0 2 2h.44a2 2 0 0 0 2-2v-.18a2 2 0 0 1 1-1.73l.43-.25a2 2 0 0 1 2 0l.15.08a2 2 0 0 0 2.73-.73l.22-.39a2 2 0 0 0-.73-2.73l-.15-.08a2 2 0 0 1-1-1.74v-.5a2 2 0 0 1 1-1.74l.15-.09a2 2 0 0 0 .73-2.73l-.22-.38a2 2 0 0 0-2.73-.73l-.15.08a2 2 0 0 1-2 0l-.43-.25a2 2 0 0 1-1-1.73V4a2 2 0 0 0-2-2z"/><circle cx="12" cy="12" r="3"/></svg><div class="b" style="left:932.0px;top:14.7px;width:34px;height:34px;background:#F3F3F4;border-radius:50%"></div><svg class="ic" style="width:20px;height:20px;left:939.0px;top:21.7px;" viewBox="0 0 24 24" fill="none" stroke="#2a2a2e" stroke-width="1.7" stroke-linecap="round" stroke-linejoin="round"><path d="M10 3H6a2 2 0 0 0-2 2v14a2 2 0 0 0 2 2h4"/><path d="M9 12h12"/><path d="m16 7 5 5-5 5"/></svg><div class="b" style="left:26.6px;top:89.6px;width:74.9px;height:32.9px;border-radius:16.5px;box-sizing:border-box;background:linear-gradient(160deg,#8468E0,#5B3FC0)"></div><div class="t" style="left:26.6px;top:99px;font-size:11px;color:#fff;font-weight:400;width:74.9px;text-align:center;">Breakfast</div><div class="b" style="left:109.1px;top:89.6px;width:65.8px;height:32.9px;border-radius:16.5px;box-sizing:border-box;background:#fff;border:1px solid #dcd6f3"></div><div class="t" style="left:109.1px;top:98.35px;font-size:12.3px;color:#8d8d93;font-weight:400;width:65.8px;text-align:center;">Dinner</div><div class="b" style="left:182.6px;top:89.6px;width:62.0px;height:32.9px;border-radius:16.5px;box-sizing:border-box;background:#fff;border:1px solid #dcd6f3"></div><div class="t" style="left:182.6px;top:98.35px;font-size:12.3px;color:#8d8d93;font-weight:400;width:62.0px;text-align:center;">Lunch</div><div class="b" style="left:261.1px;top:91px;width:1px;height:30px;background:#e9e9ec"></div><div class="b" style="left:277.2px;top:89.6px;width:98.7px;height:32.9px;border-radius:16.5px;box-sizing:border-box;background:#111"></div><div class="t" style="left:277.2px;top:98.25px;font-size:12.5px;color:#fff;font-weight:400;width:98.7px;text-align:center;">Sandwiches</div><div class="b" style="left:381.9px;top:89.6px;width:57.3px;height:32.9px;border-radius:16.5px;box-sizing:border-box;background:#fff;border:1px solid #e4e4e7"></div><div class="t" style="left:381.9px;top:98.35px;font-size:12.3px;color:#8d8d93;font-weight:400;width:57.3px;text-align:center;">Sides</div><div class="b" style="left:446px;top:89.6px;width:60.9px;height:32.9px;border-radius:16.5px;box-sizing:border-box;background:#fff;border:1px solid #e4e4e7"></div><div class="t" style="left:446px;top:98.35px;font-size:12.3px;color:#8d8d93;font-weight:400;width:60.9px;text-align:center;">Drinks</div><div class="b" style="left:514px;top:89.6px;width:97.3px;height:32.9px;border-radius:16.5px;box-sizing:border-box;background:#fff;border:1px solid #e4e4e7"></div><div class="t" style="left:514px;top:98.45px;font-size:12.1px;color:#8d8d93;font-weight:400;width:97.3px;text-align:center;">Main Course</div><div class="b" style="left:618.1px;top:89.6px;width:80.9px;height:32.9px;border-radius:16.5px;box-sizing:border-box;background:#fff;border:1px solid #e4e4e7"></div><div class="t" style="left:618.1px;top:98.35px;font-size:12.3px;color:#8d8d93;font-weight:400;width:80.9px;text-align:center;">Appetizer</div><div class="t" style="left:896.2px;top:98.2px;font-size:12.6px;color:#6A55D5;font-weight:400;text-decoration:underline;text-underline-offset:2px;">Custom Order</div><div class="b" style="left:28.3px;top:148.9px;width:141.7px;height:146.6px;background:#fff;border-radius:10px"></div><svg class="ic" style="left:36.5px;top:158.2px;width:123.3px;height:77.6px;border-radius:8px;overflow:hidden;"><use href="#sw" width="123.3" height="77.6"/></svg><div class="t" style="left:36.5px;top:245.3px;font-size:12.4px;color:#6b6b70;font-weight:400;">Turkey Sandwich</div><div class="t" style="left:38.4px;top:268.5px;font-size:13px;color:#77777c;font-weight:400;">$5.45</div><div class="b" style="left:140.1px;top:266.0px;width:20.3px;height:20.3px;border:1.2px solid #55555a;border-radius:50%;box-sizing:border-box"></div><div class="b" style="left:181.9px;top:148.9px;width:141.7px;height:146.6px;background:#fff;border-radius:10px"></div><svg class="ic" style="left:190.1px;top:158.2px;width:123.3px;height:77.6px;border-radius:8px;overflow:hidden;"><use href="#sw" width="123.3" height="77.6"/></svg><div class="t" style="left:190.1px;top:245.3px;font-size:12.4px;color:#6b6b70;font-weight:400;">Turkey Sandwich</div><div class="t" style="left:192.0px;top:268.5px;font-size:13px;color:#77777c;font-weight:400;">$5.45</div><div class="b" style="left:293.7px;top:266.0px;width:20.3px;height:20.3px;border:1.2px solid #55555a;border-radius:50%;box-sizing:border-box"></div><div class="b" style="left:335.5px;top:148.9px;width:141.7px;height:146.6px;background:#fff;border-radius:10px"></div><svg class="ic" style="left:343.7px;top:158.2px;width:123.3px;height:77.6px;border-radius:8px;overflow:hidden;"><use href="#sw" width="123.3" height="77.6"/></svg><div class="t" style="left:343.7px;top:245.3px;font-size:12.4px;color:#6b6b70;font-weight:400;">Turkey Sandwich</div><div class="t" style="left:345.6px;top:268.5px;font-size:13px;color:#77777c;font-weight:400;">$5.45</div><div class="b" style="left:447.3px;top:266.0px;width:20.3px;height:20.3px;border:1.2px solid #55555a;border-radius:50%;box-sizing:border-box"></div><div class="b" style="left:489.1px;top:148.9px;width:141.7px;height:146.6px;background:#fff;border-radius:10px"></div><svg class="ic" style="left:497.3px;top:158.2px;width:123.3px;height:77.6px;border-radius:8px;overflow:hidden;"><use href="#sw" width="123.3" height="77.6"/></svg><div class="t" style="left:497.3px;top:245.3px;font-size:12.4px;color:#6b6b70;font-weight:400;">Turkey Sandwich</div><div class="t" style="left:499.2px;top:268.5px;font-size:13px;color:#77777c;font-weight:400;">$5.45</div><div class="b" style="left:600.9px;top:266.0px;width:20.3px;height:20.3px;border:1.2px solid #55555a;border-radius:50%;box-sizing:border-box"></div><div class="b" style="left:28.3px;top:307.5px;width:141.7px;height:146.6px;background:#fff;border-radius:10px"></div><svg class="ic" style="left:36.5px;top:316.8px;width:123.3px;height:77.6px;border-radius:8px;overflow:hidden;"><use href="#sw" width="123.3" height="77.6"/></svg><div class="t" style="left:36.5px;top:403.3px;font-size:12.4px;color:#6b6b70;font-weight:400;">Turkey Sandwich</div><div class="t" style="left:38.4px;top:426.5px;font-size:13px;color:#77777c;font-weight:400;">$5.45</div><div class="b" style="left:140.1px;top:424.6px;width:20.3px;height:20.3px;border:1.2px solid #55555a;border-radius:50%;box-sizing:border-box"></div><div class="b" style="left:181.9px;top:307.5px;width:141.7px;height:146.6px;background:#fff;border-radius:10px"></div><svg class="ic" style="left:190.1px;top:316.8px;width:123.3px;height:77.6px;border-radius:8px;overflow:hidden;"><use href="#sw" width="123.3" height="77.6"/></svg><div class="t" style="left:190.1px;top:403.3px;font-size:12.4px;color:#6b6b70;font-weight:400;">Turkey Sandwich</div><div class="t" style="left:192.0px;top:426.5px;font-size:13px;color:#77777c;font-weight:400;">$5.45</div><div class="b" style="left:293.7px;top:424.6px;width:20.3px;height:20.3px;border:1.2px solid #55555a;border-radius:50%;box-sizing:border-box"></div><div class="b" style="left:335.5px;top:307.5px;width:141.7px;height:146.6px;background:#fff;border-radius:10px"></div><svg class="ic" style="left:343.7px;top:316.8px;width:123.3px;height:77.6px;border-radius:8px;overflow:hidden;"><use href="#sw" width="123.3" height="77.6"/></svg><div class="t" style="left:343.7px;top:403.3px;font-size:12.4px;color:#6b6b70;font-weight:400;">Turkey Sandwich</div><div class="t" style="left:345.6px;top:426.5px;font-size:13px;color:#77777c;font-weight:400;">$5.45</div><div class="b" style="left:447.3px;top:424.6px;width:20.3px;height:20.3px;border:1.2px solid #55555a;border-radius:50%;box-sizing:border-box"></div><div class="b" style="left:489.1px;top:307.5px;width:141.7px;height:146.6px;background:#fff;border-radius:10px"></div><svg class="ic" style="left:497.3px;top:316.8px;width:123.3px;height:77.6px;border-radius:8px;overflow:hidden;"><use href="#sw" width="123.3" height="77.6"/></svg><div class="t" style="left:497.3px;top:403.3px;font-size:12.4px;color:#6b6b70;font-weight:400;">Turkey Sandwich</div><div class="t" style="left:499.2px;top:426.5px;font-size:13px;color:#77777c;font-weight:400;">$5.45</div><div class="b" style="left:600.9px;top:424.6px;width:20.3px;height:20.3px;border:1.2px solid #55555a;border-radius:50%;box-sizing:border-box"></div><div class="b" style="left:28.3px;top:466.1px;width:141.7px;height:146.6px;background:#fff;border-radius:10px"></div><svg class="ic" style="left:36.5px;top:475.4px;width:123.3px;height:77.6px;border-radius:8px;overflow:hidden;"><use href="#sw" width="123.3" height="77.6"/></svg><div class="t" style="left:36.5px;top:562.3px;font-size:12.4px;color:#6b6b70;font-weight:400;">Turkey Sandwich</div><div class="t" style="left:38.4px;top:585.5px;font-size:13px;color:#77777c;font-weight:400;">$5.45</div><div class="b" style="left:140.1px;top:583.2px;width:20.3px;height:20.3px;border:1.2px solid #55555a;border-radius:50%;box-sizing:border-box"></div><div class="b" style="left:181.9px;top:466.1px;width:141.7px;height:146.6px;background:#fff;border-radius:10px"></div><svg class="ic" style="left:190.1px;top:475.4px;width:123.3px;height:77.6px;border-radius:8px;overflow:hidden;"><use href="#sw" width="123.3" height="77.6"/></svg><div class="t" style="left:190.1px;top:562.3px;font-size:12.4px;color:#6b6b70;font-weight:400;">Turkey Sandwich</div><div class="t" style="left:192.0px;top:585.5px;font-size:13px;color:#77777c;font-weight:400;">$5.45</div><div class="b" style="left:293.7px;top:583.2px;width:20.3px;height:20.3px;border:1.2px solid #55555a;border-radius:50%;box-sizing:border-box"></div><div class="b" style="left:335.5px;top:466.1px;width:141.7px;height:146.6px;background:#fff;border-radius:10px"></div><svg class="ic" style="left:343.7px;top:475.4px;width:123.3px;height:77.6px;border-radius:8px;overflow:hidden;"><use href="#sw" width="123.3" height="77.6"/></svg><div class="t" style="left:343.7px;top:562.3px;font-size:12.4px;color:#6b6b70;font-weight:400;">Turkey Sandwich</div><div class="t" style="left:345.6px;top:585.5px;font-size:13px;color:#77777c;font-weight:400;">$5.45</div><div class="b" style="left:447.3px;top:583.2px;width:20.3px;height:20.3px;border:1.2px solid #55555a;border-radius:50%;box-sizing:border-box"></div><div class="b" style="left:489.1px;top:466.1px;width:141.7px;height:146.6px;background:#fff;border-radius:10px"></div><svg class="ic" style="left:497.3px;top:475.4px;width:123.3px;height:77.6px;border-radius:8px;overflow:hidden;"><use href="#sw" width="123.3" height="77.6"/></svg><div class="t" style="left:497.3px;top:562.3px;font-size:12.4px;color:#6b6b70;font-weight:400;">Turkey Sandwich</div><div class="t" style="left:499.2px;top:585.5px;font-size:13px;color:#77777c;font-weight:400;">$5.45</div><div class="b" style="left:600.9px;top:583.2px;width:20.3px;height:20.3px;border:1.2px solid #55555a;border-radius:50%;box-sizing:border-box"></div><div class="b" style="left:28.3px;top:624.7px;width:141.7px;height:146.6px;background:#fff;border-radius:10px"></div><svg class="ic" style="left:36.5px;top:634px;width:123.3px;height:77.6px;border-radius:8px;overflow:hidden;"><use href="#sw" width="123.3" height="77.6"/></svg><div class="t" style="left:36.5px;top:721.3px;font-size:12.4px;color:#6b6b70;font-weight:400;">Turkey Sandwich</div><div class="t" style="left:38.4px;top:743.5px;font-size:13px;color:#77777c;font-weight:400;">$5.45</div><div class="b" style="left:140.1px;top:741.8px;width:20.3px;height:20.3px;border:1.2px solid #55555a;border-radius:50%;box-sizing:border-box"></div><div class="b" style="left:181.9px;top:624.7px;width:141.7px;height:146.6px;background:#fff;border-radius:10px"></div><svg class="ic" style="left:190.1px;top:634px;width:123.3px;height:77.6px;border-radius:8px;overflow:hidden;"><use href="#sw" width="123.3" height="77.6"/></svg><div class="t" style="left:190.1px;top:721.3px;font-size:12.4px;color:#6b6b70;font-weight:400;">Turkey Sandwich</div><div class="t" style="left:192.0px;top:743.5px;font-size:13px;color:#77777c;font-weight:400;">$5.45</div><div class="b" style="left:293.7px;top:741.8px;width:20.3px;height:20.3px;border:1.2px solid #55555a;border-radius:50%;box-sizing:border-box"></div><div class="b" style="left:335.5px;top:624.7px;width:141.7px;height:146.6px;background:#fff;border-radius:10px"></div><svg class="ic" style="left:343.7px;top:634px;width:123.3px;height:77.6px;border-radius:8px;overflow:hidden;"><use href="#sw" width="123.3" height="77.6"/></svg><div class="t" style="left:343.7px;top:721.3px;font-size:12.4px;color:#6b6b70;font-weight:400;">Turkey Sandwich</div><div class="t" style="left:345.6px;top:743.5px;font-size:13px;color:#77777c;font-weight:400;">$5.45</div><div class="b" style="left:447.3px;top:741.8px;width:20.3px;height:20.3px;border:1.2px solid #55555a;border-radius:50%;box-sizing:border-box"></div><div class="b" style="left:489.1px;top:624.7px;width:141.7px;height:146.6px;background:#fff;border-radius:10px"></div><svg class="ic" style="left:497.3px;top:634px;width:123.3px;height:77.6px;border-radius:8px;overflow:hidden;"><use href="#sw" width="123.3" height="77.6"/></svg><div class="t" style="left:497.3px;top:721.3px;font-size:12.4px;color:#6b6b70;font-weight:400;">Turkey Sandwich</div><div class="t" style="left:499.2px;top:743.5px;font-size:13px;color:#77777c;font-weight:400;">$5.45</div><div class="b" style="left:600.9px;top:741.8px;width:20.3px;height:20.3px;border:1.2px solid #55555a;border-radius:50%;box-sizing:border-box"></div><div class="b" style="left:644.4px;top:148.7px;width:5.5px;height:410px;background:#efeff0;border-radius:3px"></div><div class="b" style="left:644.1px;top:148.7px;width:4.9px;height:47px;background:#bdbdc0;border-radius:2.5px"></div><div class="b" style="left:663.8px;top:148.7px;width:315.1px;height:153.9px;background:#fff;border-radius:12px"></div><svg class="ic" style="left:672.8px;top:159.9px;width:71.9px;height:54px;border-radius:8px;overflow:hidden;"><use href="#sw" width="71.9" height="54"/></svg><div class="t" style="left:754.9px;top:160.35px;font-size:12.3px;color:#1d1d20;font-weight:400;-webkit-text-stroke:.2px #1d1d20;">Turkey Sandwich</div><svg class="ic" style="width:12.5px;height:12.5px;left:954.85px;top:160.85px;" viewBox="0 0 24 24" fill="none" stroke="#555" stroke-width="1.5" stroke-linecap="round" stroke-linejoin="round"><path d="M5 5l14 14"/><path d="M19 5 5 19"/></svg><div class="b" style="left:754.9px;top:185.6px;width:94.2px;height:26.2px;opacity:1"><div class="b" style="left:0;top:0;width:94.2px;height:26.2px;border:1px solid #e4e4e8;border-radius:4px;box-sizing:border-box;background:#fff"></div><div class="b" style="left:30.9px;top:-0.5px;width:32.4px;height:28.7px;border:1px solid #e4e4e8;border-radius:3px;box-sizing:border-box;background:#fff"></div><svg class="ic" style="width:13px;height:13px;left:9.2px;top:6.6px;" viewBox="0 0 24 24" fill="none" stroke="#8a8a8a" stroke-width="1.6" stroke-linecap="round" stroke-linejoin="round"><path d="M5 12h14"/></svg><svg class="ic" style="width:13px;height:13px;left:72.0px;top:6.6px;" viewBox="0 0 24 24" fill="none" stroke="#8a8a8a" stroke-width="1.6" stroke-linecap="round" stroke-linejoin="round"><path d="M5 12h14"/><path d="M12 5v14"/></svg><div class="t" style="left:31.4px;width:31.4px;text-align:center;top:7.1px;font-size:12px;color:#333">1</div></div><div class="t" style="right:39.1px;top:191.4px;font-size:16.2px;color:#222;font-weight:700;">$5.45</div><div class="t" style="left:674px;top:228.55px;font-size:11.9px;color:#8d8d92;font-weight:400;">Extra Bacon - $1.00</div><div class="t" style="right:39.1px;top:228.55px;font-size:11.9px;color:#8d8d92;font-weight:400;">Extra Cheese - $1.00</div><div class="t" style="left:674px;top:254.55px;font-size:11.9px;color:#8d8d92;font-weight:400;">Extra Bacon - $1.00</div><div class="t" style="right:39.1px;top:254.55px;font-size:11.9px;color:#8d8d92;font-weight:400;">Extra Cheese - $1.00</div><div class="t" style="left:674px;top:280.55px;font-size:11.9px;color:#8d8d92;font-weight:400;">Extra Bacon - $1.00</div><div class="t" style="right:39.1px;top:280.55px;font-size:11.9px;color:#8d8d92;font-weight:400;">Extra Cheese - $1.00</div><div class="b" style="left:663.8px;top:311px;width:315.1px;height:75.8px;background:#fff;border-radius:12px"></div><svg class="ic" style="left:672.8px;top:322.4px;width:71.9px;height:53.4px;border-radius:8px;overflow:hidden;"><use href="#pb" width="71.9" height="53.4"/></svg><div class="t" style="left:754.9px;top:323.35px;font-size:12.3px;color:#1d1d20;font-weight:400;-webkit-text-stroke:.2px #1d1d20;">Fried Shrimp Po'boy</div><svg class="ic" style="width:12.5px;height:12.5px;left:954.85px;top:323.25px;" viewBox="0 0 24 24" fill="none" stroke="#555" stroke-width="1.5" stroke-linecap="round" stroke-linejoin="round"><path d="M5 5l14 14"/><path d="M19 5 5 19"/></svg><div class="b" style="left:754.9px;top:348.2px;width:94.2px;height:25.3px;opacity:1"><div class="b" style="left:0;top:0;width:94.2px;height:25.3px;border:1px solid #e4e4e8;border-radius:4px;box-sizing:border-box;background:#fff"></div><div class="b" style="left:30.9px;top:-0.5px;width:32.4px;height:27.8px;border:1px solid #e4e4e8;border-radius:3px;box-sizing:border-box;background:#fff"></div><svg class="ic" style="width:13px;height:13px;left:9.2px;top:6.15px;" viewBox="0 0 24 24" fill="none" stroke="#8a8a8a" stroke-width="1.6" stroke-linecap="round" stroke-linejoin="round"><path d="M5 12h14"/></svg><svg class="ic" style="width:13px;height:13px;left:72.0px;top:6.15px;" viewBox="0 0 24 24" fill="none" stroke="#8a8a8a" stroke-width="1.6" stroke-linecap="round" stroke-linejoin="round"><path d="M5 12h14"/><path d="M12 5v14"/></svg><div class="t" style="left:31.4px;width:31.4px;text-align:center;top:6.65px;font-size:12px;color:#333">1</div></div><div class="t" style="right:39.1px;top:354.4px;font-size:16.2px;color:#222;font-weight:700;">$5.45</div><div class="b" style="left:663.8px;top:395px;width:315.1px;height:75.8px;background:#fff;border-radius:12px"></div><svg class="ic" style="left:672.8px;top:406.4px;width:71.9px;height:53.4px;border-radius:8px;overflow:hidden;"><use href="#sw" width="71.9" height="53.4"/></svg><div class="t" style="left:754.9px;top:407.35px;font-size:12.3px;color:#1d1d20;font-weight:400;-webkit-text-stroke:.2px #1d1d20;">Turkey Sandwich</div><svg class="ic" style="width:12.5px;height:12.5px;left:954.85px;top:407.25px;" viewBox="0 0 24 24" fill="none" stroke="#555" stroke-width="1.5" stroke-linecap="round" stroke-linejoin="round"><path d="M5 5l14 14"/><path d="M19 5 5 19"/></svg><div class="b" style="left:754.9px;top:432.2px;width:94.2px;height:25.3px;opacity:1"><div class="b" style="left:0;top:0;width:94.2px;height:25.3px;border:1px solid #e4e4e8;border-radius:4px;box-sizing:border-box;background:#fff"></div><div class="b" style="left:30.9px;top:-0.5px;width:32.4px;height:27.8px;border:1px solid #e4e4e8;border-radius:3px;box-sizing:border-box;background:#fff"></div><svg class="ic" style="width:13px;height:13px;left:9.2px;top:6.15px;" viewBox="0 0 24 24" fill="none" stroke="#8a8a8a" stroke-width="1.6" stroke-linecap="round" stroke-linejoin="round"><path d="M5 12h14"/></svg><svg class="ic" style="width:13px;height:13px;left:72.0px;top:6.15px;" viewBox="0 0 24 24" fill="none" stroke="#8a8a8a" stroke-width="1.6" stroke-linecap="round" stroke-linejoin="round"><path d="M5 12h14"/><path d="M12 5v14"/></svg><div class="t" style="left:31.4px;width:31.4px;text-align:center;top:6.65px;font-size:12px;color:#333">1</div></div><div class="t" style="right:39.1px;top:438.4px;font-size:16.2px;color:#222;font-weight:700;">$5.45</div><div class="b" style="left:663.8px;top:479px;width:315.1px;height:75.8px;background:#fff;border-radius:12px"></div><svg class="ic" style="left:672.8px;top:490.4px;width:71.9px;height:53.4px;border-radius:8px;overflow:hidden;"><use href="#pb" width="71.9" height="53.4"/></svg><div class="t" style="left:754.9px;top:491.35px;font-size:12.3px;color:#1d1d20;font-weight:400;-webkit-text-stroke:.2px #1d1d20;">Turkey Sandwich</div><svg class="ic" style="width:12.5px;height:12.5px;left:954.85px;top:491.25px;" viewBox="0 0 24 24" fill="none" stroke="#555" stroke-width="1.5" stroke-linecap="round" stroke-linejoin="round"><path d="M5 5l14 14"/><path d="M19 5 5 19"/></svg><div class="b" style="left:754.9px;top:516.2px;width:94.2px;height:25.3px;opacity:1"><div class="b" style="left:0;top:0;width:94.2px;height:25.3px;border:1px solid #e4e4e8;border-radius:4px;box-sizing:border-box;background:#fff"></div><div class="b" style="left:30.9px;top:-0.5px;width:32.4px;height:27.8px;border:1px solid #e4e4e8;border-radius:3px;box-sizing:border-box;background:#fff"></div><svg class="ic" style="width:13px;height:13px;left:9.2px;top:6.15px;" viewBox="0 0 24 24" fill="none" stroke="#8a8a8a" stroke-width="1.6" stroke-linecap="round" stroke-linejoin="round"><path d="M5 12h14"/></svg><svg class="ic" style="width:13px;height:13px;left:72.0px;top:6.15px;" viewBox="0 0 24 24" fill="none" stroke="#8a8a8a" stroke-width="1.6" stroke-linecap="round" stroke-linejoin="round"><path d="M5 12h14"/><path d="M12 5v14"/></svg><div class="t" style="left:31.4px;width:31.4px;text-align:center;top:6.65px;font-size:12px;color:#333">1</div></div><div class="t" style="right:39.1px;top:522.4px;font-size:16.2px;color:#222;font-weight:700;">$5.45</div><div class="b" style="left:663.8px;top:563px;width:315.1px;height:75.8px;background:#fff;border-radius:12px"></div><svg class="ic" style="left:672.8px;top:574.4px;width:71.9px;height:53.4px;border-radius:8px;overflow:hidden;"><use href="#sw" width="71.9" height="53.4"/></svg><div class="t" style="left:754.9px;top:575.35px;font-size:12.3px;color:#1d1d20;font-weight:400;-webkit-text-stroke:.2px #1d1d20;">Turkey Sandwich</div><svg class="ic" style="width:12.5px;height:12.5px;left:954.85px;top:575.25px;" viewBox="0 0 24 24" fill="none" stroke="#555" stroke-width="1.5" stroke-linecap="round" stroke-linejoin="round"><path d="M5 5l14 14"/><path d="M19 5 5 19"/></svg><div class="b" style="left:754.9px;top:600.2px;width:94.2px;height:25.3px;opacity:1"><div class="b" style="left:0;top:0;width:94.2px;height:25.3px;border:1px solid #e4e4e8;border-radius:4px;box-sizing:border-box;background:#fff"></div><div class="b" style="left:30.9px;top:-0.5px;width:32.4px;height:27.8px;border:1px solid #e4e4e8;border-radius:3px;box-sizing:border-box;background:#fff"></div><svg class="ic" style="width:13px;height:13px;left:9.2px;top:6.15px;" viewBox="0 0 24 24" fill="none" stroke="#8a8a8a" stroke-width="1.6" stroke-linecap="round" stroke-linejoin="round"><path d="M5 12h14"/></svg><svg class="ic" style="width:13px;height:13px;left:72.0px;top:6.15px;" viewBox="0 0 24 24" fill="none" stroke="#8a8a8a" stroke-width="1.6" stroke-linecap="round" stroke-linejoin="round"><path d="M5 12h14"/><path d="M12 5v14"/></svg><div class="t" style="left:31.4px;width:31.4px;text-align:center;top:6.65px;font-size:12px;color:#333">1</div></div><div class="t" style="right:39.1px;top:606.4px;font-size:16.2px;color:#222;font-weight:700;">$5.45</div><div class="b" style="left:663.8px;top:647px;width:315.1px;height:75.8px;background:#fff;border-radius:12px"></div><svg class="ic" style="left:672.8px;top:658.4px;width:71.9px;height:53.4px;border-radius:8px;overflow:hidden;"><use href="#sw" width="71.9" height="53.4"/></svg><div class="t" style="left:754.9px;top:659.35px;font-size:12.3px;color:#1d1d20;font-weight:400;-webkit-text-stroke:.2px #1d1d20;">Turkey Sandwich</div><svg class="ic" style="width:12.5px;height:12.5px;left:954.85px;top:659.25px;" viewBox="0 0 24 24" fill="none" stroke="#555" stroke-width="1.5" stroke-linecap="round" stroke-linejoin="round"><path d="M5 5l14 14"/><path d="M19 5 5 19"/></svg><div class="b" style="left:754.9px;top:684.2px;width:94.2px;height:25.3px;opacity:1"><div class="b" style="left:0;top:0;width:94.2px;height:25.3px;border:1px solid #e4e4e8;border-radius:4px;box-sizing:border-box;background:#fff"></div><div class="b" style="left:30.9px;top:-0.5px;width:32.4px;height:27.8px;border:1px solid #e4e4e8;border-radius:3px;box-sizing:border-box;background:#fff"></div><svg class="ic" style="width:13px;height:13px;left:9.2px;top:6.15px;" viewBox="0 0 24 24" fill="none" stroke="#8a8a8a" stroke-width="1.6" stroke-linecap="round" stroke-linejoin="round"><path d="M5 12h14"/></svg><svg class="ic" style="width:13px;height:13px;left:72.0px;top:6.15px;" viewBox="0 0 24 24" fill="none" stroke="#8a8a8a" stroke-width="1.6" stroke-linecap="round" stroke-linejoin="round"><path d="M5 12h14"/><path d="M12 5v14"/></svg><div class="t" style="left:31.4px;width:31.4px;text-align:center;top:6.65px;font-size:12px;color:#333">1</div></div><div class="t" style="right:39.1px;top:690.4px;font-size:16.2px;color:#222;font-weight:700;">$5.45</div><div class="b" style="left:662.7px;top:586px;width:316.7px;height:60px;background:linear-gradient(to bottom,rgba(206,192,245,0),rgba(200,186,243,.55) 45%,#C4B4F1)"></div><div class="b" style="left:662.7px;top:641.4px;width:316.7px;height:49.4px;background:#fff;border-radius:15px 15px 0 0"></div><div class="t" style="left:676.3px;top:661.2px;font-size:12.6px;color:#151518;font-weight:400;-webkit-text-stroke:.2px #151518;">Order Total:</div><div class="t" style="right:41.9px;top:658.25px;font-size:16.5px;color:#1FA347;font-weight:400;">$25.13</div><div class="b" style="left:810.6px;top:635.6px;width:20.4px;height:20.4px;background:#8E8E93;border-radius:50%"></div><svg class="ic" style="width:12px;height:12px;left:814.8px;top:639.8px;" viewBox="0 0 24 24" fill="none" stroke="#fff" stroke-width="1.7" stroke-linecap="round" stroke-linejoin="round"><path d="M12 19V5"/><path d="m6 11 6-6 6 6"/></svg></div></div><div class="panel" style="left:1151px;top:713.7px;width:1140.3px;height:702.9px"><div class="sc" style="transform:scale(1);width:1140.3px;height:702.9px"><div class="b" style="left:0px;top:0px;width:208.3px;height:702.9px;border-right:1px solid #ececf1;box-sizing:border-box"></div><svg class="ic" style="left:12.8px;top:20.8px;width:20.59px;height:20.59px" viewBox="0 0 24 24"><path d="M10.500 19H15a5 5 0 0 0 5-5V8a5 5 0 0 0-5-5H10A5 5 0 0 0 5 8v5.500" fill="none" stroke="#6B57D8" stroke-width="3.400" stroke-linecap="butt"/><rect x="10.500" y="8.500" width="4.500" height="4.500" fill="#6B57D8"/><rect x="0.500" y="13.500" width="3.600" height="3.600" fill="#6B57D8"/><rect x="4" y="17" width="3.600" height="3.600" fill="#6B57D8"/><rect x="7.500" y="20.400" width="3.600" height="3.600" fill="#6B57D8"/></svg><div class="t" style="left:37.19px;top:23.4px;font-size:14.2px;color:#333;font-weight:700;letter-spacing:-0.2px;"><span style="color:#6B57D8">POS</span><span style="color:#3d3d42">itivity</span></div><svg class="ic" style="width:15.5px;height:15.5px;left:20.55px;top:65.15px;" viewBox="0 0 24 24" fill="none" stroke="#6b6b73" stroke-width="1.9" stroke-linecap="round" stroke-linejoin="round"><path d="M3 10l9-7.5 9 7.5v10a2 2 0 0 1-2 2H5a2 2 0 0 1-2-2z"/><path d="M9 22v-9h6v9"/></svg><div class="t" style="left:43.2px;top:67.9px;font-size:11.2px;color:#6b6b73;font-weight:400;">Dashboard</div><div class="b" style="left:12.8px;top:90.6px;width:184.2px;height:31.2px;background:#EFEDFE;border-radius:5px"></div><svg class="ic" style="width:15.5px;height:15.5px;left:20.55px;top:98.45px;" viewBox="0 0 24 24" fill="none" stroke="#7B61FF" stroke-width="1.9" stroke-linecap="round" stroke-linejoin="round"><path d="M12 2 2 7l10 5 10-5-10-5z"/><path d="m2 17 10 5 10-5"/><path d="m2 12 10 5 10-5"/></svg><div class="t" style="left:43.2px;top:100.9px;font-size:11.2px;color:#7B61FF;font-weight:400;">Orders</div><svg class="ic" style="width:15.5px;height:15.5px;left:20.55px;top:131.75px;" viewBox="0 0 24 24" fill="none" stroke="#6b6b73" stroke-width="1.9" stroke-linecap="round" stroke-linejoin="round"><path d="M21 11.5a8.38 8.38 0 0 1-.9 3.8 8.5 8.5 0 0 1-7.6 4.7 8.38 8.38 0 0 1-3.8-.9L3 21l1.9-5.7a8.38 8.38 0 0 1-.9-3.8 8.5 8.5 0 0 1 4.7-7.6 8.38 8.38 0 0 1 3.8-.9h.5a8.48 8.48 0 0 1 8 8v.5z"/></svg><div class="t" style="left:43.2px;top:133.9px;font-size:11.2px;color:#6b6b73;font-weight:400;">Pos Menu</div><svg class="ic" style="width:14px;height:14px;left:172.7px;top:132.0px;" viewBox="0 0 24 24" fill="none" stroke="#555" stroke-width="2" stroke-linecap="round" stroke-linejoin="round"><path d="m6 9 6 6 6-6"/></svg><svg class="ic" style="width:15.5px;height:15.5px;left:20.55px;top:165.05px;" viewBox="0 0 24 24" fill="none" stroke="#6b6b73" stroke-width="1.9" stroke-linecap="round" stroke-linejoin="round"><path d="M20 21v-2a4 4 0 0 0-4-4H8a4 4 0 0 0-4 4v2"/><circle cx="12" cy="7" r="4"/></svg><div class="t" style="left:43.2px;top:166.9px;font-size:11.2px;color:#6b6b73;font-weight:400;">Clerks</div><svg class="ic" style="width:15.5px;height:15.5px;left:20.55px;top:198.35px;" viewBox="0 0 24 24" fill="none" stroke="#6b6b73" stroke-width="1.9" stroke-linecap="round" stroke-linejoin="round"><rect x="5" y="2" width="14" height="20" rx="2"/><path d="M12 18h.01"/></svg><div class="t" style="left:43.2px;top:200.9px;font-size:11.2px;color:#6b6b73;font-weight:400;">Devices</div><svg class="ic" style="width:15.5px;height:15.5px;left:20.55px;top:231.65px;" viewBox="0 0 24 24" fill="none" stroke="#6b6b73" stroke-width="1.9" stroke-linecap="round" stroke-linejoin="round"><path d="M2 9a3 3 0 0 1 0 6v3a1 1 0 0 0 1 1h18a1 1 0 0 0 1-1v-3a3 3 0 0 1 0-6V6a1 1 0 0 0-1-1H3a1 1 0 0 0-1 1Z"/><path d="M9 9h.01"/><path d="m15 9-6 6"/><path d="M15 15h.01"/></svg><div class="t" style="left:43.2px;top:233.9px;font-size:11.2px;color:#6b6b73;font-weight:400;">Coupons</div><svg class="ic" style="width:15.5px;height:15.5px;left:20.55px;top:264.95px;" viewBox="0 0 24 24" fill="none" stroke="#6b6b73" stroke-width="1.9" stroke-linecap="round" stroke-linejoin="round"><path d="M12.22 2h-.44a2 2 0 0 0-2 2v.18a2 2 0 0 1-1 1.73l-.43.25a2 2 0 0 1-2 0l-.15-.08a2 2 0 0 0-2.73.73l-.22.38a2 2 0 0 0 .73 2.73l.15.1a2 2 0 0 1 1 1.72v.51a2 2 0 0 1-1 1.74l-.15.09a2 2 0 0 0-.73 2.73l.22.38a2 2 0 0 0 2.73.73l.15-.08a2 2 0 0 1 2 0l.43.25a2 2 0 0 1 1 1.73V20a2 2 0 0 0 2 2h.44a2 2 0 0 0 2-2v-.18a2 2 0 0 1 1-1.73l.43-.25a2 2 0 0 1 2 0l.15.08a2 2 0 0 0 2.73-.73l.22-.39a2 2 0 0 0-.73-2.73l-.15-.08a2 2 0 0 1-1-1.74v-.5a2 2 0 0 1 1-1.74l.15-.09a2 2 0 0 0 .73-2.73l-.22-.38a2 2 0 0 0-2.73-.73l-.15.08a2 2 0 0 1-2 0l-.43-.25a2 2 0 0 1-1-1.73V4a2 2 0 0 0-2-2z"/><circle cx="12" cy="12" r="3"/></svg><div class="t" style="left:43.2px;top:266.9px;font-size:11.2px;color:#6b6b73;font-weight:400;">DigiAds</div><svg class="ic" style="width:14px;height:14px;left:172.7px;top:265.2px;" viewBox="0 0 24 24" fill="none" stroke="#555" stroke-width="2" stroke-linecap="round" stroke-linejoin="round"><path d="m6 9 6 6 6-6"/></svg><svg class="ic" style="width:15.5px;height:15.5px;left:20.55px;top:298.25px;" viewBox="0 0 24 24" fill="none" stroke="#6b6b73" stroke-width="1.9" stroke-linecap="round" stroke-linejoin="round"><circle cx="12" cy="12" r="10"/><path d="M21.54 15H17a2 2 0 0 0-2 2v4.54"/><path d="M7 3.34V5a3 3 0 0 0 3 3a2 2 0 0 1 2 2c0 1.1.9 2 2 2a2 2 0 0 0 2-2c0-1.1.9-2 2-2h3.17"/><path d="M11 21.95V18a2 2 0 0 0-2-2a2 2 0 0 1-2-2v-1a2 2 0 0 0-2-2H2.05"/></svg><div class="t" style="left:43.2px;top:300.9px;font-size:11.2px;color:#6b6b73;font-weight:400;">Online</div><svg class="ic" style="width:14px;height:14px;left:172.7px;top:298.5px;" viewBox="0 0 24 24" fill="none" stroke="#555" stroke-width="2" stroke-linecap="round" stroke-linejoin="round"><path d="m6 9 6 6 6-6"/></svg><div class="b" style="left:14.5px;top:574.6px;width:181px;height:1px;background:#eeeef2"></div><svg class="ic" style="width:14.5px;height:14.5px;left:21.45px;top:597.75px;" viewBox="0 0 24 24" fill="none" stroke="#777" stroke-width="1.7" stroke-linecap="round" stroke-linejoin="round"><circle cx="12" cy="12" r="10"/><path d="M9.09 9a3 3 0 0 1 5.83 1c0 2-3 3-3 3"/><path d="M12 17h.01"/></svg><div class="t" style="left:43.4px;top:600.02px;font-size:10.95px;color:#6b6b73;font-weight:400;">Help &amp; Support</div><div class="b" style="left:208.3px;top:56.7px;width:932.0px;height:1px;background:#eeeef2"></div><svg class="ic" style="width:13.5px;height:13.5px;left:230.25px;top:22.35px;" viewBox="0 0 24 24" fill="none" stroke="#7a7f88" stroke-width="1.9" stroke-linecap="round" stroke-linejoin="round"><path d="M3 10l9-7.5 9 7.5v10a2 2 0 0 1-2 2H5a2 2 0 0 1-2-2z"/><path d="M9 22v-9h6v9"/></svg><svg class="ic" style="width:10px;height:10px;left:251.5px;top:24.3px;" viewBox="0 0 24 24" fill="none" stroke="#b5b8be" stroke-width="2" stroke-linecap="round" stroke-linejoin="round"><path d="m9 6 6 6-6 6"/></svg><div class="t" style="left:266.4px;top:23.45px;font-size:13.1px;color:#8a8f98;font-weight:400;">Merchant</div><svg class="ic" style="width:10px;height:10px;left:326.2px;top:24.3px;" viewBox="0 0 24 24" fill="none" stroke="#b5b8be" stroke-width="2" stroke-linecap="round" stroke-linejoin="round"><path d="m9 6 6 6-6 6"/></svg><div class="t" style="left:341.8px;top:23.45px;font-size:13.1px;color:#8a8f98;font-weight:400;">Orders</div><div class="b" style="left:1089.4px;top:12.3px;width:32px;height:32px;background:#7B5CF6;border-radius:50%"></div><div class="t" style="left:1100.1px;top:23.75px;font-size:11.5px;color:#fff;font-weight:700;">M</div><div class="b" style="left:234.3px;top:86.3px;width:95.3px;height:24.7px;border:1px solid #e3e3e8;border-radius:12.4px;box-sizing:border-box"></div><div class="t" style="left:243.1px;top:93.85px;font-size:11.3px;color:#7a7a82;font-weight:400;">Today</div><svg class="ic" style="left:309.5px;top:92.6px;width:11.5px;height:12px" viewBox="0 0 24 24"><rect x="2" y="4" width="20" height="19" rx="3" fill="#d2d2d8"/><rect x="2" y="4" width="20" height="6" rx="2" fill="#bdbdc5"/><rect x="6" y="1" width="3" height="6" rx="1.500" fill="#bdbdc5"/><rect x="15" y="1" width="3" height="6" rx="1.500" fill="#bdbdc5"/></svg><div class="b" style="left:335.4px;top:86.3px;width:95.3px;height:24.7px;border:1px solid #e3e3e8;border-radius:12.4px;box-sizing:border-box"></div><div class="t" style="left:344.2px;top:93.85px;font-size:11.3px;color:#7a7a82;font-weight:400;">Type</div><svg class="ic" style="width:11.5px;height:11.5px;left:411.65px;top:92.95px;" viewBox="0 0 24 24" fill="none" stroke="#666" stroke-width="2.4" stroke-linecap="round" stroke-linejoin="round"><path d="m6 9 6 6 6-6"/></svg><div class="b" style="left:436.5px;top:86.3px;width:95.3px;height:24.7px;border:1px solid #e3e3e8;border-radius:12.4px;box-sizing:border-box"></div><div class="t" style="left:445.3px;top:93.85px;font-size:11.3px;color:#7a7a82;font-weight:400;">Delivery</div><svg class="ic" style="width:11.5px;height:11.5px;left:512.75px;top:92.95px;" viewBox="0 0 24 24" fill="none" stroke="#666" stroke-width="2.4" stroke-linecap="round" stroke-linejoin="round"><path d="m6 9 6 6 6-6"/></svg><div class="b" style="left:537.6px;top:86.3px;width:95.3px;height:24.7px;border:1px solid #e3e3e8;border-radius:12.4px;box-sizing:border-box"></div><div class="t" style="left:546.4px;top:93.85px;font-size:11.3px;color:#7a7a82;font-weight:400;">Status</div><svg class="ic" style="width:11.5px;height:11.5px;left:613.85px;top:92.95px;" viewBox="0 0 24 24" fill="none" stroke="#666" stroke-width="2.4" stroke-linecap="round" stroke-linejoin="round"><path d="m6 9 6 6 6-6"/></svg><div class="b" style="left:638.7px;top:86.3px;width:95.3px;height:24.7px;border:1px solid #e3e3e8;border-radius:12.4px;box-sizing:border-box"></div><div class="t" style="left:647.5px;top:93.85px;font-size:11.3px;color:#7a7a82;font-weight:400;">Payment</div><svg class="ic" style="width:11.5px;height:11.5px;left:714.95px;top:92.95px;" viewBox="0 0 24 24" fill="none" stroke="#666" stroke-width="2.4" stroke-linecap="round" stroke-linejoin="round"><path d="m6 9 6 6 6-6"/></svg><div class="b" style="left:889.7px;top:86.1px;width:131px;height:24.8px;border:1px solid #e3e3e8;border-radius:12.4px;box-sizing:border-box"></div><svg class="ic" style="width:11.5px;height:11.5px;left:899.35px;top:92.85px;" viewBox="0 0 24 24" fill="none" stroke="#888" stroke-width="2" stroke-linecap="round" stroke-linejoin="round"><circle cx="11" cy="11" r="7.500"/><path d="m21 21-4.700-4.700"/></svg><div class="t" style="left:918.4px;top:94.1px;font-size:10.8px;color:#a5a5ad;font-weight:400;">Search</div><svg class="ic" style="width:15px;height:15px;left:1035.8px;top:91.2px;" viewBox="0 0 24 24" fill="none" stroke="#777" stroke-width="1.9" stroke-linecap="round" stroke-linejoin="round"><path d="M3 12a9 9 0 0 1 9-9 9.750 9.750 0 0 1 6.740 2.740L21 8"/><path d="M21 3v5h-5"/><path d="M21 12a9 9 0 0 1-9 9 9.750 9.750 0 0 1-6.740-2.740L3 16"/><path d="M8 16H3v5"/></svg><div class="t" style="left:1059.5px;top:94.15px;font-size:12.7px;color:#7a7a82;font-weight:400;">Refresh</div><div class="t" style="left:244.5px;top:150.9px;font-size:11.2px;color:#7a7a82;font-weight:400;">Row</div><div class="t" style="left:304.5px;top:150.9px;font-size:11.2px;color:#7a7a82;font-weight:400;">Order</div><div class="t" style="left:364.5px;top:150.9px;font-size:11.2px;color:#7a7a82;font-weight:400;">Date</div><div class="t" style="left:458.6px;top:150.9px;font-size:11.2px;color:#7a7a82;font-weight:400;">Time</div><div class="t" style="left:552.9px;top:150.9px;font-size:11.2px;color:#7a7a82;font-weight:400;">Order Type</div><div class="t" style="left:646.8px;top:150.9px;font-size:11.2px;color:#7a7a82;font-weight:400;">Status</div><div class="t" style="left:741.1px;top:150.9px;font-size:11.2px;color:#7a7a82;font-weight:400;">Delivery</div><div class="t" style="left:835.1px;top:150.9px;font-size:11.2px;color:#7a7a82;font-weight:400;">Payment</div><div class="t" style="left:929.1px;top:150.9px;font-size:11.2px;color:#7a7a82;font-weight:400;">Price</div><svg class="ic" style="width:12.5px;height:12.5px;left:496.15px;top:149.95px;" viewBox="0 0 24 24" fill="none" stroke="#555" stroke-width="1.8" stroke-linecap="round" stroke-linejoin="round"><path d="M12 4v16"/><path d="m6 14 6 6 6-6"/></svg><svg class="ic" style="width:12.5px;height:12.5px;left:511.95px;top:149.95px;" viewBox="0 0 24 24" fill="none" stroke="#555" stroke-width="1.8" stroke-linecap="round" stroke-linejoin="round"><path d="M12 20V4"/><path d="m6 10 6-6 6 6"/></svg><div class="b" style="left:234px;top:177.5px;width:881px;height:1px;background:#ececf0"></div><div class="b" style="left:234px;top:221.3px;width:881px;height:1px;background:#f0f0f4"></div><div class="t" style="left:244.5px;top:195.05px;font-size:10.9px;color:#1f1f24;font-weight:400;">1</div><div class="t" style="left:304.5px;top:195.05px;font-size:10.9px;color:#1f1f24;font-weight:400;letter-spacing:-0.25px;">8921</div><div class="t" style="left:365.6px;top:195.05px;font-size:10.9px;color:#1f1f24;font-weight:400;letter-spacing:-0.3px;">2025-04-04</div><div class="t" style="left:460px;top:195.05px;font-size:10.9px;color:#1f1f24;font-weight:400;letter-spacing:-0.1px;">11:00 AM</div><div class="t" style="left:554.2px;top:194.87px;font-size:11.25px;color:#1f1f24;font-weight:400;">Phone Order</div><div class="b" style="left:646.8px;top:189.4px;width:52px;height:21.4px;background:#ECEAFD;border-radius:10.7px;box-sizing:border-box;"></div><div class="t" style="left:646.8px;top:196.15px;font-size:9.7px;color:#7B68EE;font-weight:400;width:52px;text-align:center;">Pending</div><div class="t" style="left:742.2px;top:194.95px;font-size:11.1px;color:#1f1f24;font-weight:400;">Pick - Up</div><div class="t" style="left:836.5px;top:194.95px;font-size:11.1px;color:#1f1f24;font-weight:400;">Card</div><div class="t" style="left:930.8px;top:195.05px;font-size:10.9px;color:#1f1f24;font-weight:400;letter-spacing:-0.2px;">$36.13</div><svg class="ic" style="width:15px;height:15px;left:1031.5px;top:192.6px;" viewBox="0 0 24 24" fill="none" stroke="#555" stroke-width="1.7" stroke-linecap="round" stroke-linejoin="round"><path d="M5 21V5a2 2 0 0 1 2-2h10a2 2 0 0 1 2 2v16l-3.500-2.500L12 21l-3.500-2.500z"/></svg><svg class="ic" style="width:13px;height:13px;left:1082.9px;top:193.6px;" viewBox="0 0 24 24" fill="none" stroke="#666" stroke-width="1.7" stroke-linecap="round" stroke-linejoin="round"><path d="M5 5l14 14"/><path d="M19 5 5 19"/></svg><div class="b" style="left:237px;top:221.8px;width:878px;height:44px;background:#F8F9FB"></div><div class="b" style="left:234px;top:265.7px;width:881px;height:1px;background:#f0f0f4"></div><div class="t" style="left:244.5px;top:239.05px;font-size:10.9px;color:#1f1f24;font-weight:400;">2</div><div class="t" style="left:304.5px;top:239.05px;font-size:10.9px;color:#1f1f24;font-weight:400;letter-spacing:-0.25px;">8921</div><div class="t" style="left:365.6px;top:239.05px;font-size:10.9px;color:#1f1f24;font-weight:400;letter-spacing:-0.3px;">2025-04-04</div><div class="t" style="left:460px;top:239.05px;font-size:10.9px;color:#1f1f24;font-weight:400;letter-spacing:-0.1px;">11:00 AM</div><div class="t" style="left:554.2px;top:238.88px;font-size:11.25px;color:#1f1f24;font-weight:400;">Phone Order</div><div class="b" style="left:646.8px;top:233.8px;width:32px;height:21.4px;background:#E9F7EC;border-radius:10.7px;box-sizing:border-box;border:1px solid #d4efd9;"></div><div class="t" style="left:646.8px;top:240.15px;font-size:9.7px;color:#4CAF50;font-weight:400;width:32px;text-align:center;">Paid</div><div class="t" style="left:742.2px;top:238.95px;font-size:11.1px;color:#1f1f24;font-weight:400;">Pick - Up</div><div class="t" style="left:836.5px;top:238.95px;font-size:11.1px;color:#1f1f24;font-weight:400;">Card</div><div class="t" style="left:930.8px;top:239.05px;font-size:10.9px;color:#1f1f24;font-weight:400;letter-spacing:-0.2px;">$33.53</div><svg class="ic" style="width:15px;height:15px;left:1031.5px;top:237.0px;" viewBox="0 0 24 24" fill="none" stroke="#555" stroke-width="1.7" stroke-linecap="round" stroke-linejoin="round"><path d="M5 21V5a2 2 0 0 1 2-2h10a2 2 0 0 1 2 2v16l-3.500-2.500L12 21l-3.500-2.500z"/></svg><svg class="ic" style="width:13px;height:13px;left:1082.9px;top:238.0px;" viewBox="0 0 24 24" fill="none" stroke="#666" stroke-width="1.7" stroke-linecap="round" stroke-linejoin="round"><path d="M5 5l14 14"/><path d="M19 5 5 19"/></svg><div class="b" style="left:234px;top:310.1px;width:881px;height:1px;background:#f0f0f4"></div><div class="t" style="left:244.5px;top:284.05px;font-size:10.9px;color:#1f1f24;font-weight:400;">3</div><div class="t" style="left:304.5px;top:284.05px;font-size:10.9px;color:#1f1f24;font-weight:400;letter-spacing:-0.25px;">8921</div><div class="t" style="left:365.6px;top:284.05px;font-size:10.9px;color:#1f1f24;font-weight:400;letter-spacing:-0.3px;">2025-04-04</div><div class="t" style="left:460px;top:284.05px;font-size:10.9px;color:#1f1f24;font-weight:400;letter-spacing:-0.1px;">11:00 AM</div><div class="t" style="left:554.2px;top:283.88px;font-size:11.25px;color:#1f1f24;font-weight:400;">Phone Order</div><div class="b" style="left:646.8px;top:278.2px;width:56px;height:21.4px;background:#F8EAFB;border-radius:10.7px;box-sizing:border-box;"></div><div class="t" style="left:646.8px;top:284.15px;font-size:9.7px;color:#9C4DCC;font-weight:400;width:56px;text-align:center;">Accepted</div><div class="t" style="left:742.2px;top:283.95px;font-size:11.1px;color:#1f1f24;font-weight:400;">Pick - Up</div><div class="t" style="left:836.5px;top:283.95px;font-size:11.1px;color:#1f1f24;font-weight:400;">Card</div><div class="t" style="left:930.8px;top:284.05px;font-size:10.9px;color:#1f1f24;font-weight:400;letter-spacing:-0.2px;">$12.85</div><svg class="ic" style="width:15px;height:15px;left:1031.5px;top:281.4px;" viewBox="0 0 24 24" fill="none" stroke="#555" stroke-width="1.7" stroke-linecap="round" stroke-linejoin="round"><path d="M5 21V5a2 2 0 0 1 2-2h10a2 2 0 0 1 2 2v16l-3.500-2.500L12 21l-3.500-2.500z"/></svg><svg class="ic" style="width:13px;height:13px;left:1082.9px;top:282.4px;" viewBox="0 0 24 24" fill="none" stroke="#666" stroke-width="1.7" stroke-linecap="round" stroke-linejoin="round"><path d="M5 5l14 14"/><path d="M19 5 5 19"/></svg><div class="b" style="left:234px;top:354.5px;width:881px;height:1px;background:#f0f0f4"></div><div class="t" style="left:244.5px;top:328.05px;font-size:10.9px;color:#1f1f24;font-weight:400;">4</div><div class="t" style="left:304.5px;top:328.05px;font-size:10.9px;color:#1f1f24;font-weight:400;letter-spacing:-0.25px;">8921</div><div class="t" style="left:365.6px;top:328.05px;font-size:10.9px;color:#1f1f24;font-weight:400;letter-spacing:-0.3px;">2025-04-04</div><div class="t" style="left:460px;top:328.05px;font-size:10.9px;color:#1f1f24;font-weight:400;letter-spacing:-0.1px;">11:00 AM</div><div class="t" style="left:554.2px;top:327.88px;font-size:11.25px;color:#1f1f24;font-weight:400;">Phone Order</div><div class="b" style="left:646.8px;top:322.6px;width:52px;height:21.4px;background:#FFF0CC;border-radius:10.7px;box-sizing:border-box;"></div><div class="t" style="left:646.8px;top:329.15px;font-size:9.7px;color:#E8A317;font-weight:400;width:52px;text-align:center;">Cooking</div><div class="t" style="left:742.2px;top:327.95px;font-size:11.1px;color:#1f1f24;font-weight:400;">Pick - Up</div><div class="t" style="left:836.5px;top:327.95px;font-size:11.1px;color:#1f1f24;font-weight:400;">Card</div><div class="t" style="left:930.8px;top:328.05px;font-size:10.9px;color:#1f1f24;font-weight:400;letter-spacing:-0.2px;">$45.32</div><svg class="ic" style="width:15px;height:15px;left:1031.5px;top:325.8px;" viewBox="0 0 24 24" fill="none" stroke="#555" stroke-width="1.7" stroke-linecap="round" stroke-linejoin="round"><path d="M5 21V5a2 2 0 0 1 2-2h10a2 2 0 0 1 2 2v16l-3.500-2.500L12 21l-3.500-2.500z"/></svg><svg class="ic" style="width:13px;height:13px;left:1082.9px;top:326.8px;" viewBox="0 0 24 24" fill="none" stroke="#666" stroke-width="1.7" stroke-linecap="round" stroke-linejoin="round"><path d="M5 5l14 14"/><path d="M19 5 5 19"/></svg><div class="b" style="left:234px;top:398.9px;width:881px;height:1px;background:#f0f0f4"></div><div class="t" style="left:244.5px;top:372.05px;font-size:10.9px;color:#1f1f24;font-weight:400;">5</div><div class="t" style="left:304.5px;top:372.05px;font-size:10.9px;color:#1f1f24;font-weight:400;letter-spacing:-0.25px;">8921</div><div class="t" style="left:365.6px;top:372.05px;font-size:10.9px;color:#1f1f24;font-weight:400;letter-spacing:-0.3px;">2025-04-04</div><div class="t" style="left:460px;top:372.05px;font-size:10.9px;color:#1f1f24;font-weight:400;letter-spacing:-0.1px;">11:00 AM</div><div class="t" style="left:554.2px;top:371.87px;font-size:11.25px;color:#1f1f24;font-weight:400;">Phone Order</div><div class="b" style="left:646.8px;top:367.0px;width:39px;height:21.4px;background:#EEF6FD;border-radius:10.7px;box-sizing:border-box;"></div><div class="t" style="left:646.8px;top:373.15px;font-size:9.7px;color:#5BA4E6;font-weight:400;width:39px;text-align:center;">Ready</div><div class="t" style="left:742.2px;top:371.95px;font-size:11.1px;color:#1f1f24;font-weight:400;">Pick - Up</div><div class="t" style="left:836.5px;top:371.95px;font-size:11.1px;color:#1f1f24;font-weight:400;">Card</div><div class="t" style="left:930.8px;top:372.05px;font-size:10.9px;color:#1f1f24;font-weight:400;letter-spacing:-0.2px;">$98.34</div><svg class="ic" style="width:15px;height:15px;left:1031.5px;top:370.2px;" viewBox="0 0 24 24" fill="none" stroke="#555" stroke-width="1.7" stroke-linecap="round" stroke-linejoin="round"><path d="M5 21V5a2 2 0 0 1 2-2h10a2 2 0 0 1 2 2v16l-3.500-2.500L12 21l-3.500-2.500z"/></svg><svg class="ic" style="width:13px;height:13px;left:1082.9px;top:371.2px;" viewBox="0 0 24 24" fill="none" stroke="#666" stroke-width="1.7" stroke-linecap="round" stroke-linejoin="round"><path d="M5 5l14 14"/><path d="M19 5 5 19"/></svg><div class="b" style="left:234px;top:443.3px;width:881px;height:1px;background:#f0f0f4"></div><div class="t" style="left:244.5px;top:417.05px;font-size:10.9px;color:#1f1f24;font-weight:400;">6</div><div class="t" style="left:304.5px;top:417.05px;font-size:10.9px;color:#1f1f24;font-weight:400;letter-spacing:-0.25px;">8921</div><div class="t" style="left:365.6px;top:417.05px;font-size:10.9px;color:#1f1f24;font-weight:400;letter-spacing:-0.3px;">2025-04-04</div><div class="t" style="left:460px;top:417.05px;font-size:10.9px;color:#1f1f24;font-weight:400;letter-spacing:-0.1px;">11:00 AM</div><div class="t" style="left:554.2px;top:416.87px;font-size:11.25px;color:#1f1f24;font-weight:400;">Phone Order</div><div class="b" style="left:646.8px;top:411.4px;width:64.6px;height:21.4px;background:#C9CEFA;border-radius:10.7px;box-sizing:border-box;border:1px solid #98A2F4;"></div><div class="t" style="left:646.8px;top:418.15px;font-size:9.7px;color:#5B6EE8;font-weight:400;width:64.6px;text-align:center;">Completed</div><div class="t" style="left:742.2px;top:416.95px;font-size:11.1px;color:#1f1f24;font-weight:400;">Pick - Up</div><div class="t" style="left:836.5px;top:416.95px;font-size:11.1px;color:#1f1f24;font-weight:400;">Card</div><div class="t" style="left:930.8px;top:417.05px;font-size:10.9px;color:#1f1f24;font-weight:400;letter-spacing:-0.2px;">$33.53</div><svg class="ic" style="width:15px;height:15px;left:1031.5px;top:414.6px;" viewBox="0 0 24 24" fill="none" stroke="#555" stroke-width="1.7" stroke-linecap="round" stroke-linejoin="round"><path d="M5 21V5a2 2 0 0 1 2-2h10a2 2 0 0 1 2 2v16l-3.500-2.500L12 21l-3.500-2.500z"/></svg><svg class="ic" style="width:13px;height:13px;left:1082.9px;top:415.6px;" viewBox="0 0 24 24" fill="none" stroke="#666" stroke-width="1.7" stroke-linecap="round" stroke-linejoin="round"><path d="M5 5l14 14"/><path d="M19 5 5 19"/></svg><div class="b" style="left:234px;top:487.7px;width:881px;height:1px;background:#f0f0f4"></div><div class="t" style="left:244.5px;top:461.05px;font-size:10.9px;color:#1f1f24;font-weight:400;">7</div><div class="t" style="left:304.5px;top:461.05px;font-size:10.9px;color:#1f1f24;font-weight:400;letter-spacing:-0.25px;">8921</div><div class="t" style="left:365.6px;top:461.05px;font-size:10.9px;color:#1f1f24;font-weight:400;letter-spacing:-0.3px;">2025-04-04</div><div class="t" style="left:460px;top:461.05px;font-size:10.9px;color:#1f1f24;font-weight:400;letter-spacing:-0.1px;">11:00 AM</div><div class="t" style="left:554.2px;top:460.88px;font-size:11.25px;color:#1f1f24;font-weight:400;">Phone Order</div><div class="b" style="left:646.8px;top:455.8px;width:60px;height:21.4px;background:#F4F8E4;border-radius:10.7px;box-sizing:border-box;border:1px solid #e8efcf;"></div><div class="t" style="left:646.8px;top:462.15px;font-size:9.7px;color:#8DA544;font-weight:400;width:60px;text-align:center;">Cancelling</div><div class="t" style="left:742.2px;top:460.95px;font-size:11.1px;color:#1f1f24;font-weight:400;">Pick - Up</div><div class="t" style="left:836.5px;top:460.95px;font-size:11.1px;color:#1f1f24;font-weight:400;">Card</div><div class="t" style="left:930.8px;top:461.05px;font-size:10.9px;color:#1f1f24;font-weight:400;letter-spacing:-0.2px;">$12.85</div><svg class="ic" style="width:15px;height:15px;left:1031.5px;top:459.0px;" viewBox="0 0 24 24" fill="none" stroke="#555" stroke-width="1.7" stroke-linecap="round" stroke-linejoin="round"><path d="M5 21V5a2 2 0 0 1 2-2h10a2 2 0 0 1 2 2v16l-3.500-2.500L12 21l-3.500-2.500z"/></svg><svg class="ic" style="width:13px;height:13px;left:1082.9px;top:460.0px;" viewBox="0 0 24 24" fill="none" stroke="#666" stroke-width="1.7" stroke-linecap="round" stroke-linejoin="round"><path d="M5 5l14 14"/><path d="M19 5 5 19"/></svg><div class="b" style="left:234px;top:532.1px;width:881px;height:1px;background:#f0f0f4"></div><div class="t" style="left:244.5px;top:506.05px;font-size:10.9px;color:#1f1f24;font-weight:400;">8</div><div class="t" style="left:304.5px;top:506.05px;font-size:10.9px;color:#1f1f24;font-weight:400;letter-spacing:-0.25px;">8921</div><div class="t" style="left:365.6px;top:506.05px;font-size:10.9px;color:#1f1f24;font-weight:400;letter-spacing:-0.3px;">2025-04-04</div><div class="t" style="left:460px;top:506.05px;font-size:10.9px;color:#1f1f24;font-weight:400;letter-spacing:-0.1px;">11:00 AM</div><div class="t" style="left:554.2px;top:505.88px;font-size:11.25px;color:#1f1f24;font-weight:400;">Phone Order</div><div class="b" style="left:646.8px;top:500.2px;width:52px;height:21.4px;background:#FDE8E8;border-radius:10.7px;box-sizing:border-box;"></div><div class="t" style="left:646.8px;top:506.15px;font-size:9.7px;color:#E04848;font-weight:400;width:52px;text-align:center;">Rejected</div><div class="t" style="left:742.2px;top:505.95px;font-size:11.1px;color:#1f1f24;font-weight:400;">Pick - Up</div><div class="t" style="left:836.5px;top:505.95px;font-size:11.1px;color:#1f1f24;font-weight:400;">Card</div><div class="t" style="left:930.8px;top:506.05px;font-size:10.9px;color:#1f1f24;font-weight:400;letter-spacing:-0.2px;">$33.53</div><svg class="ic" style="width:15px;height:15px;left:1031.5px;top:503.4px;" viewBox="0 0 24 24" fill="none" stroke="#555" stroke-width="1.7" stroke-linecap="round" stroke-linejoin="round"><path d="M5 21V5a2 2 0 0 1 2-2h10a2 2 0 0 1 2 2v16l-3.500-2.500L12 21l-3.500-2.500z"/></svg><svg class="ic" style="width:13px;height:13px;left:1082.9px;top:504.4px;" viewBox="0 0 24 24" fill="none" stroke="#666" stroke-width="1.7" stroke-linecap="round" stroke-linejoin="round"><path d="M5 5l14 14"/><path d="M19 5 5 19"/></svg><div class="b" style="left:234px;top:576.5px;width:881px;height:1px;background:#f0f0f4"></div><div class="t" style="left:244.5px;top:550.05px;font-size:10.9px;color:#1f1f24;font-weight:400;">9</div><div class="t" style="left:304.5px;top:550.05px;font-size:10.9px;color:#1f1f24;font-weight:400;letter-spacing:-0.25px;">8921</div><div class="t" style="left:365.6px;top:550.05px;font-size:10.9px;color:#1f1f24;font-weight:400;letter-spacing:-0.3px;">2025-04-04</div><div class="t" style="left:460px;top:550.05px;font-size:10.9px;color:#1f1f24;font-weight:400;letter-spacing:-0.1px;">11:00 AM</div><div class="t" style="left:554.2px;top:549.88px;font-size:11.25px;color:#1f1f24;font-weight:400;">Phone Order</div><div class="b" style="left:646.8px;top:544.6px;width:56px;height:21.4px;background:#FBEAFD;border-radius:10.7px;box-sizing:border-box;"></div><div class="t" style="left:646.8px;top:551.15px;font-size:9.7px;color:#B044D8;font-weight:400;width:56px;text-align:center;">Delivered</div><div class="t" style="left:742.2px;top:549.95px;font-size:11.1px;color:#1f1f24;font-weight:400;">Pick - Up</div><div class="t" style="left:836.5px;top:549.95px;font-size:11.1px;color:#1f1f24;font-weight:400;">Card</div><div class="t" style="left:930.8px;top:550.05px;font-size:10.9px;color:#1f1f24;font-weight:400;letter-spacing:-0.2px;">$33.53</div><svg class="ic" style="width:15px;height:15px;left:1031.5px;top:547.8px;" viewBox="0 0 24 24" fill="none" stroke="#555" stroke-width="1.7" stroke-linecap="round" stroke-linejoin="round"><path d="M5 21V5a2 2 0 0 1 2-2h10a2 2 0 0 1 2 2v16l-3.500-2.500L12 21l-3.500-2.500z"/></svg><svg class="ic" style="width:13px;height:13px;left:1082.9px;top:548.8px;" viewBox="0 0 24 24" fill="none" stroke="#666" stroke-width="1.7" stroke-linecap="round" stroke-linejoin="round"><path d="M5 5l14 14"/><path d="M19 5 5 19"/></svg><div class="t" style="left:244.5px;top:594.05px;font-size:10.9px;color:#1f1f24;font-weight:400;">10</div><div class="t" style="left:304.5px;top:594.05px;font-size:10.9px;color:#1f1f24;font-weight:400;letter-spacing:-0.25px;">8921</div><div class="t" style="left:365.6px;top:594.05px;font-size:10.9px;color:#1f1f24;font-weight:400;letter-spacing:-0.3px;">2025-04-04</div><div class="t" style="left:460px;top:594.05px;font-size:10.9px;color:#1f1f24;font-weight:400;letter-spacing:-0.1px;">11:00 AM</div><div class="t" style="left:554.2px;top:593.87px;font-size:11.25px;color:#1f1f24;font-weight:400;">Phone Order</div><div class="b" style="left:646.8px;top:589px;width:64.6px;height:21.4px;background:#FFF8EC;border-radius:10.7px;box-sizing:border-box;"></div><div class="t" style="left:646.8px;top:595.15px;font-size:9.7px;color:#8D7B5A;font-weight:400;width:64.6px;text-align:center;">In progress</div><div class="t" style="left:742.2px;top:593.95px;font-size:11.1px;color:#1f1f24;font-weight:400;">Pick - Up</div><div class="t" style="left:836.5px;top:593.95px;font-size:11.1px;color:#1f1f24;font-weight:400;">Card</div><div class="t" style="left:930.8px;top:594.05px;font-size:10.9px;color:#1f1f24;font-weight:400;letter-spacing:-0.2px;">$33.53</div><svg class="ic" style="width:15px;height:15px;left:1031.5px;top:592.2px;" viewBox="0 0 24 24" fill="none" stroke="#555" stroke-width="1.7" stroke-linecap="round" stroke-linejoin="round"><path d="M5 21V5a2 2 0 0 1 2-2h10a2 2 0 0 1 2 2v16l-3.500-2.500L12 21l-3.500-2.500z"/></svg><svg class="ic" style="width:13px;height:13px;left:1082.9px;top:593.2px;" viewBox="0 0 24 24" fill="none" stroke="#666" stroke-width="1.7" stroke-linecap="round" stroke-linejoin="round"><path d="M5 5l14 14"/><path d="M19 5 5 19"/></svg><div class="b" style="left:234.4px;top:658px;width:127.9px;height:31px;border:1px solid #e6e6ea;border-radius:4px;box-sizing:border-box"></div><div class="t" style="left:244.7px;top:669.05px;font-size:10.9px;color:#9a9aa2;font-weight:400;">Show Items:</div><div class="t" style="left:316.3px;top:669.05px;font-size:10.9px;color:#1f1f24;font-weight:400;">10</div><svg class="ic" style="width:11.5px;height:11.5px;left:339.55px;top:667.75px;" viewBox="0 0 24 24" fill="none" stroke="#999" stroke-width="1.8" stroke-linecap="round" stroke-linejoin="round"><path d="m6 9 6 6 6-6"/></svg><div class="b" style="left:792.8px;top:658.1px;width:322px;height:32px;border:1px solid #e6e6ea;border-radius:4px;box-sizing:border-box;overflow:hidden"></div><div class="b" style="left:793.8px;top:659.1px;width:30px;height:30px;background:#F1F2F4;border-radius:3px 0 0 3px"></div><div class="b" style="left:823.8px;top:658.6px;width:1px;height:31px;background:#e6e6ea"></div><div class="b" style="left:855.5px;top:658.6px;width:1px;height:31px;background:#e6e6ea"></div><div class="b" style="left:886.8px;top:658.6px;width:1px;height:31px;background:#e6e6ea"></div><div class="b" style="left:918.5px;top:658.6px;width:1px;height:31px;background:#e6e6ea"></div><div class="b" style="left:950.4px;top:658.6px;width:1px;height:31px;background:#e6e6ea"></div><div class="b" style="left:982.1px;top:658.6px;width:1px;height:31px;background:#e6e6ea"></div><div class="b" style="left:1013.4px;top:658.6px;width:1px;height:31px;background:#e6e6ea"></div><div class="b" style="left:1046.3px;top:658.6px;width:1px;height:31px;background:#e6e6ea"></div><div class="t" style="left:793.3px;top:669.05px;font-size:10.9px;color:#1f1f24;font-weight:400;width:30px;text-align:center;">1</div><div class="t" style="left:824.65px;top:669.05px;font-size:10.9px;color:#1f1f24;font-weight:400;width:30px;text-align:center;">2</div><div class="t" style="left:856.15px;top:669.05px;font-size:10.9px;color:#1f1f24;font-weight:400;width:30px;text-align:center;">3</div><div class="t" style="left:887.65px;top:669.05px;font-size:10.9px;color:#1f1f24;font-weight:400;width:30px;text-align:center;">4</div><div class="t" style="left:919.45px;top:669.05px;font-size:10.9px;color:#1f1f24;font-weight:400;width:30px;text-align:center;">5</div><div class="t" style="left:951.25px;top:669.05px;font-size:10.9px;color:#1f1f24;font-weight:400;width:30px;text-align:center;">6</div><div class="t" style="left:982.75px;top:669.05px;font-size:10.9px;color:#1f1f24;font-weight:400;width:30px;text-align:center;">...</div><div class="t" style="left:1014.85px;top:669.05px;font-size:10.9px;color:#1f1f24;font-weight:400;width:30px;text-align:center;">24</div><div class="t" style="left:1055.5px;top:669.15px;font-size:12.7px;color:#8a8a92;font-weight:400;">Next</div><svg class="ic" style="width:11.5px;height:11.5px;left:1091.75px;top:668.05px;" viewBox="0 0 24 24" fill="none" stroke="#777" stroke-width="1.9" stroke-linecap="round" stroke-linejoin="round"><path d="m9 6 6 6-6 6"/></svg></div></div></body></html>
